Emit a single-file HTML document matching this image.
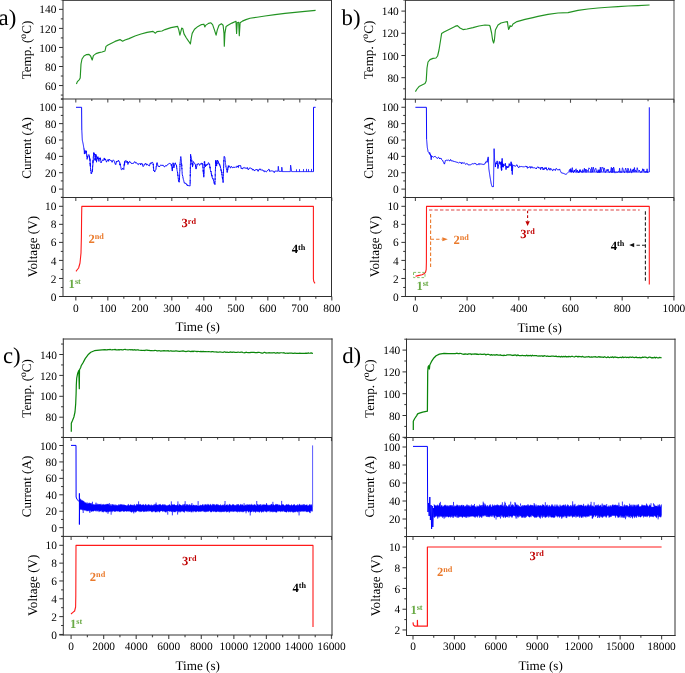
<!DOCTYPE html>
<html><head><meta charset="utf-8"><style>
html,body{margin:0;padding:0;background:#fff;width:685px;height:673px;overflow:hidden}
svg{display:block;font-family:"Liberation Serif",serif;text-rendering:geometricPrecision;will-change:transform}
</style></head><body>
<svg width="685" height="673" viewBox="0 0 685 673" font-family="Liberation Serif, serif">
<rect width="685" height="673" fill="#fff"/>
<polyline points="76.4,84 77.4,81.6 79.4,79.6 80.2,78 81,64 82,59 84,56 86.6,54.6 89,54.4 90.6,56 92.2,60 93.4,55.6 96,53.6 99,52.6 102,52 105,51 106,46.4 108,45 111,43.4 115,41.4 120,39.6 122.6,41.2 125,40 129,38.6 135,36 141,34 147,32.4 153,31.4 155.4,33.2 157,31.6 162,31 165,29.6 171,27.6 177.6,26.4 178.8,29.9 179.9,35.1 180.7,32.2 181.7,28.1 182.8,28.7 184,33.9 186.4,38 188.7,41.3 190.4,43.9 191.3,38 192.2,33.4 194.5,29.3 198,26.4 201.5,24.6 203.9,24.2 204.8,26.9 205.6,25.4 208.5,23.4 210.9,22.8 212.6,24.6 214.4,29.9 216.1,35.1 217.3,29.9 219,25.2 221.4,23.8 223.1,25.2 224,33.4 224.3,46.2 224.9,33.4 226.1,26.4 228.4,25 231.9,23.1 236,21.3 236.6,33.4 237.2,22.8 238.7,22.3 239.3,35.7 240.1,22.8 242.4,21.1 245.9,19.6 250,18.2 257,17.2 265,16 275,14.6 285,13.4 295,12.4 305,11.4 315.6,10.4" fill="none" stroke="#229322" stroke-width="1.15" stroke-linejoin="round"/>
<polyline points="76,107.3 81.6,107.3 81.8,130 81.83,130.62 81.86,131.25 81.89,131.88 81.92,132.5 81.96,133.12 81.99,133.75 82.02,134.38 82.05,135 82.08,135.62 82.11,136.25 82.14,136.88 82.17,137.5 82.21,138.12 82.24,138.75 82.27,139.38 82.3,140 82.42,140.59 82.55,141.18 82.67,141.76 82.8,142.35 82.92,142.94 83.05,143.52 83.17,144.11 83.3,144.7 83.4,145.35 83.5,146 83.6,146.65 83.7,147.3 83.8,147.95 83.9,148.6 84,149.25 84.1,148.84 84.15,149.55 84.2,150.58 84.25,151.05 84.3,152.35 84.35,153.61 84.4,154.05 84.53,153.98 84.65,151.6 84.78,150.58 84.9,151.22 85.12,150.64 85.35,151.97 85.58,151.66 85.8,153.58 86.1,153.13 86.4,150.82 86.48,152.77 86.56,153.6 86.64,154.37 86.72,154.09 86.8,156.31 86.88,155.84 86.96,156.95 87.04,157.66 87.12,159.33 87.2,158.67 87.32,158.31 87.43,157.44 87.55,157.97 87.67,156.18 87.78,156.86 87.9,155.62 89.1,154.6 89.23,156.07 89.37,157.57 89.5,156.43 89.63,158.9 89.77,158.25 89.9,160.38 89.94,159.24 89.98,159.11 90.02,159.9 90.06,160.97 90.1,160.71 90.14,164.06 90.18,163.05 90.22,163.77 90.26,165.34 90.3,166.21 90.34,163.85 90.38,165.14 90.42,165.52 90.46,167.67 90.5,167.72 90.6,169.46 90.7,170.59 90.8,169.72 90.9,170.93 91,171.16 91.1,173.35 91.2,172.71 91.3,173.05 91.4,173.81 91.62,173.57 91.85,172.57 92.08,171.83 92.3,171.51 92.35,170.79 92.39,171.58 92.44,169.83 92.49,168.83 92.54,169.83 92.58,168.81 92.63,165.7 92.68,166.36 92.72,165.84 92.77,165.47 92.82,165.44 92.86,164.94 92.91,162.32 92.96,163.05 93.01,160.64 93.05,161.78 93.1,160.79 93.15,160.27 93.2,160.06 93.25,160.56 93.3,157.69 93.35,156.63 93.4,157.37 93.45,156.71 93.5,156.31 93.55,154.73 93.6,154.93 93.65,153.06 93.7,153.75 93.75,153.79 93.8,152.47 94.6,154.32 94.65,155.02 94.7,154.27 94.75,154.91 94.8,155.09 94.85,154.41 94.9,156.67 94.95,157.01 95,156.64 95.05,159.97 95.1,158.22 95.15,158.59 95.2,160.57 95.26,159.72 95.32,159.12 95.38,158.61 95.44,157.86 95.5,157.49 95.56,156.8 95.62,155.76 95.68,155.57 95.74,154.4 95.8,154.98 95.87,154.59 95.93,156.73 96,155.68 96.07,156.64 96.13,155.51 96.2,156.74 96.27,158.75 96.33,158.85 96.4,160.7 96.47,161.08 96.53,162.19 96.6,160.55 96.73,160.8 96.86,160.01 96.99,159.41 97.11,158.64 97.24,157.31 97.37,159.1 97.5,157.19 97.7,158.86 97.9,156.59 98.1,157.72 98.3,157.75 98.5,159.1 98.7,160.37 98.94,161.43 99.18,158.55 99.42,158.94 99.66,157.93 99.9,158.8 100.06,157.89 100.21,157.74 100.37,159.58 100.53,158.43 100.69,160.23 100.84,161.3 101,162.93 101.6,161.55 102.2,160.88 102.8,159.69 103.4,160.53 103.83,159.86 104.25,157.93 104.67,160.07 105.1,160.06 105.46,158.86 105.82,160.2 106.18,161.11 106.54,162.16 106.9,160.83 107.48,160.6 108.05,159.45 108.62,161.35 109.2,159.16 109.78,159.94 110.35,160.38 110.92,159.99 111.5,161.23 112.1,162.29 112.7,160.7 113.3,159.85 113.9,160.65 114.11,161.14 114.33,161.34 114.54,162.17 114.75,162.95 114.96,163.39 115.17,164.04 115.39,164.34 115.6,163.79 115.8,164.44 116,163.64 116.2,162.19 116.4,161.34 116.6,162.21 116.8,161.32 117.37,161.04 117.93,161.69 118.5,160.22 118.8,160.97 119.1,161.32 119.4,162.06 119.7,162.07 119.85,164.71 120,164.05 120.15,165.26 120.3,163.76 120.45,165.58 120.6,166.28 120.75,166.64 120.9,167.27 121.05,168.33 121.2,169.36 121.35,169.54 121.5,169.73 122.08,169.63 122.65,168.1 123.22,168.74 123.8,169.57 123.91,167.19 124.02,166.72 124.13,164.45 124.24,165.39 124.35,164.76 124.45,162.66 124.56,165.07 124.67,161.52 124.78,162.14 124.89,162.69 125,160.79 125.57,160.93 126.13,160.49 126.7,161.41 126.87,161.83 127.04,162.7 127.21,161.01 127.39,162.95 127.56,163.35 127.73,163.69 127.9,164.48 128.14,163.99 128.38,162.11 128.62,162.6 128.86,162.92 129.1,161.84 129.68,161.31 130.25,162.45 130.82,162.39 131.4,163.56 132.1,163.26 132.8,164 133.5,162.91 134.2,162.16 134.9,161.59 135.48,163.04 136.07,162.57 136.65,162.75 137.23,163.86 137.82,164.23 138.4,164.67 138.98,163.51 139.57,164.1 140.15,163.35 140.73,165.04 141.32,163.37 141.9,163.61 142.1,163.97 142.3,163.89 142.5,163.9 142.7,165.81 142.9,166.3 143.1,166.67 143.48,166.27 143.87,165.97 144.25,164.4 144.63,164.87 145.02,164.2 145.4,163.09 145.97,163.69 146.55,165.22 147.12,163.92 147.7,164.58 148.3,165.49 148.9,165.36 149.5,165.89 150.1,163.44 150.58,164.05 151.07,162.6 151.55,163.35 152.03,162.22 152.52,162.45 153,162.79 153.06,162.88 153.11,163.45 153.17,163.86 153.23,164.93 153.29,164.06 153.34,164.9 153.4,167.82 153.46,167.34 153.51,168.07 153.57,167.46 153.63,169.1 153.69,170.91 153.74,170.34 153.8,170.28 154.25,170.6 154.7,172.04 154.94,171.42 155.18,170.73 155.42,170.21 155.66,169.75 155.9,169.72 156.02,169.09 156.14,166.78 156.26,166.18 156.38,166.56 156.5,165.29 156.62,165.27 156.74,163.64 156.86,164.23 156.98,163.22 157.1,162.6 157.28,163.37 157.47,164.11 157.65,164.71 157.83,165.78 158.02,165.84 158.2,166.44 158.8,166.01 159.4,167.03 160,165.71 160.7,165.12 161.4,165.05 162.1,165.89 162.8,164.89 163.5,165.63 164.08,166.74 164.67,166.9 165.25,165.82 165.83,165.58 166.42,166.04 167,165.04 167.59,164.78 168.17,164.07 168.76,163.82 169.34,163.51 169.93,163.22 170.51,163.87 171.1,164.06 171.21,164.7 171.32,165.77 171.43,164.43 171.54,165.4 171.65,166.27 171.75,167.51 171.86,168.81 171.97,169.16 172.08,169.43 172.19,169.97 172.3,171.05 172.37,169.24 172.43,169.13 172.5,169.53 172.57,166.84 172.63,168.06 172.7,167.43 172.77,166.8 172.83,166.35 172.9,165.36 172.97,163.23 173.03,163.39 173.1,162.78 173.23,162.92 173.36,164.69 173.49,164.71 173.61,165.25 173.74,164.85 173.87,167.85 174,167.55 174.15,165.45 174.3,165.84 174.45,165.34 174.6,164.79 174.75,163.9 174.9,163.26 175.28,162.81 175.65,164.02 176.03,164.95 176.4,165 176.52,166.54 176.64,165.95 176.77,168.61 176.89,168.34 177.01,169.67 177.13,170.59 177.26,170.85 177.38,171.73 177.5,172.67 177.57,172.08 177.64,173.6 177.71,174.29 177.79,173.78 177.86,175.76 177.93,175.05 178,175.84 178.07,176.35 178.14,177.41 178.21,177.94 178.29,179.14 178.36,179.19 178.43,179.78 178.5,181.29 178.9,182.12 179.3,182.11 179.33,181.11 179.35,181.29 179.38,180.22 179.41,178.08 179.43,179.7 179.46,178.47 179.49,177.34 179.51,177.62 179.54,176.26 179.57,176.56 179.59,176.16 179.62,174.19 179.65,173.63 179.67,172.32 179.7,172.36 179.73,172.03 179.75,171.44 179.78,170.76 179.81,171.03 179.83,170.65 179.86,167.84 179.89,167.72 179.91,166.7 179.94,166.98 179.97,165.75 179.99,165.8 180.02,164.14 180.05,164.39 180.07,164.82 180.1,162.86 180.16,162.96 180.23,162.17 180.29,161.5 180.35,160.69 180.42,159.29 180.48,158.95 180.55,158.75 180.61,158.39 180.67,158.33 180.74,157.04 180.8,156.56 180.87,157.59 180.95,157.92 181.02,158.3 181.09,158.88 181.16,160.15 181.24,160.06 181.31,160.74 181.38,161.3 181.45,162.34 181.53,162.65 181.6,164.45 181.64,164.25 181.67,164.07 181.71,165.09 181.74,166.04 181.78,165.39 181.81,167.87 181.85,168.6 181.88,168.09 181.92,168 181.95,168.76 181.99,170.23 182.02,170.29 182.06,170.65 182.09,171.52 182.13,171.61 182.16,173.07 182.2,173.83 182.33,174.7 182.47,174.97 182.6,176.04 182.73,176.28 182.87,176.6 183,177.97 183.13,178.2 183.27,179.12 183.4,179.52 183.68,180.36 183.97,181.71 184.25,182.69 184.53,183.26 184.82,182.67 185.1,183.09 185.56,183.8 186.02,183.34 186.48,184.6 186.94,184.08 187.4,186 188.07,185.15 188.75,185.8 189.43,185.79 190.1,186.02 190.11,185.37 190.12,184.78 190.13,183.38 190.14,182.78 190.15,183.1 190.16,183.25 190.17,183.07 190.18,181.21 190.19,180.58 190.2,181.26 190.21,179.37 190.22,178.7 190.23,178.24 190.24,177.74 190.25,176.94 190.26,175.21 190.27,175.83 190.28,176.05 190.29,174.63 190.3,175 190.31,173.38 190.32,171.69 190.33,172.28 190.34,171.48 190.35,170.25 190.35,170.59 190.36,169.08 190.37,168 190.38,168.5 190.39,167.2 190.4,167.3 190.41,167.77 190.42,166.17 190.43,165.32 190.44,164.85 190.45,164.49 190.46,164.86 190.47,163.15 190.48,162.54 190.49,161.73 190.5,160.4 190.51,159.44 190.52,161.12 190.53,159.32 190.54,159.35 190.55,158.24 190.56,157.81 190.57,156.93 190.58,157.64 190.59,156.74 190.6,154.28 190.75,156.72 190.9,156.37 191.05,157.11 191.2,157.49 191.35,157.97 191.5,158.65 191.58,159.14 191.65,159.89 191.73,161.4 191.81,160.39 191.88,162.82 191.96,163.58 192.04,163.13 192.12,164.62 192.19,163.23 192.27,164.99 192.35,165.5 192.42,166.2 192.5,167.06 192.6,166.22 192.7,164.45 192.8,165.05 192.9,165.3 193,163.68 193.1,163.08 193.2,162.19 193.3,161.51 193.73,162.11 194.15,163.12 194.57,163.5 195,163.6 195.15,163.87 195.3,164.77 195.45,164.68 195.6,166.7 195.75,165.47 195.9,168.08 196.05,169.08 196.2,167.57 196.35,168.16 196.5,167.27 196.65,166.85 196.8,166.22 196.95,165.69 197.1,163.91 197.25,164.52 197.4,164.1 198.12,163.92 198.85,163.57 199.58,165.38 200.3,164.44 200.8,163.43 201.3,163.13 201.8,164.37 202.3,163.69 202.39,163.22 202.48,164.16 202.56,165.52 202.65,165.43 202.74,165.94 202.82,167.64 202.91,167.25 203,167.95 203.05,168.51 203.11,169.49 203.16,170.03 203.21,171.58 203.27,170.01 203.32,172.7 203.37,172.97 203.43,174 203.48,173.78 203.53,174.32 203.59,174.96 203.64,175.57 203.69,176 203.75,176.75 203.8,177.2 203.82,175.96 203.84,175.39 203.87,175.72 203.89,174.85 203.91,174.89 203.93,172.86 203.96,173.31 203.98,172.5 204,171.89 204.02,172.3 204.04,170.8 204.07,171.05 204.09,170.17 204.11,168.05 204.13,167 204.16,167.54 204.18,167.59 204.2,166.34 204.22,165.7 204.24,164.17 204.27,165.51 204.29,163.91 204.31,163.54 204.33,161.62 204.36,162.27 204.38,162.69 204.4,161.99 204.53,162.55 204.66,161.55 204.79,163.08 204.91,164.81 205.04,164.24 205.17,164.95 205.3,166.9 205.77,165.06 206.23,165.87 206.7,164.37 207.3,165.11 207.9,163.92 208.5,162.64 208.87,163 209.23,164.73 209.6,163.95 209.73,165.76 209.86,167.13 209.99,168.12 210.11,166.87 210.24,169.12 210.37,169.84 210.5,170.37 210.63,171.25 210.76,171.97 210.89,171.37 211.01,171.86 211.14,171.5 211.27,174.09 211.4,173.72 211.57,175.28 211.74,176.19 211.91,174.86 212.08,175.98 212.25,177.77 212.42,178.22 212.59,178.09 212.76,178.77 212.93,178.35 213.1,179.64 213.36,179.38 213.61,180.94 213.87,181.79 214.13,183.45 214.39,182.64 214.64,182.46 214.9,184.18 214.92,184.68 214.94,181.61 214.97,181.05 214.99,181.48 215.01,180.86 215.03,180.38 215.06,180.02 215.08,179.29 215.1,179.8 215.12,178.19 215.15,178.61 215.17,177.7 215.19,177.19 215.22,174.55 215.24,175.3 215.26,174.71 215.28,173.73 215.31,173.09 215.33,172.64 215.35,172.24 215.37,171.71 215.4,169.9 215.42,170.22 215.44,169.69 215.46,168.92 215.49,167.86 215.51,168.09 215.53,166.59 215.55,166.18 215.58,166 215.6,165.38 215.62,166.12 215.64,163.3 215.67,163.91 215.69,163.27 215.71,161.22 215.73,163.2 215.76,161.1 215.78,160.15 215.8,160 215.89,160.51 215.98,161.33 216.07,160.94 216.16,162.62 216.24,162.15 216.33,163.42 216.42,163.62 216.51,164.18 216.6,166.12 216.69,165.22 216.78,163.79 216.87,163.09 216.96,163.69 217.05,162.91 217.14,163.45 217.23,161.66 217.32,161.65 217.41,160.29 217.5,160.04 217.8,161.36 218.1,160.93 218.4,161.83 218.64,163.25 218.88,162.94 219.12,164.3 219.36,163.82 219.6,165.36 219.77,164.57 219.94,165.54 220.11,165.52 220.28,167.09 220.45,166.74 220.62,168.11 220.79,168.5 220.96,170.42 221.13,169.58 221.3,171.37 221.4,170.82 221.5,170.7 221.6,171.63 221.7,172.99 221.8,172.23 221.9,175.08 222,174.48 222.1,175.11 222.2,176.64 222.3,177.74 222.4,177.43 222.5,178.98 222.6,177.15 222.7,178.91 222.8,178.86 222.9,180.05 223,180.2 223.1,182.62 223.12,180.97 223.14,180.49 223.17,179.47 223.19,178.98 223.21,178.39 223.23,178.11 223.25,177.18 223.28,176.67 223.3,175.99 223.32,174.9 223.34,175.13 223.36,174.18 223.39,173.72 223.41,172.19 223.43,172.71 223.45,171.79 223.47,171.42 223.5,171.69 223.52,170.18 223.54,170.37 223.56,168.96 223.58,168.21 223.6,167.05 223.63,167.33 223.65,167.13 223.67,165.81 223.69,166.03 223.71,164.6 223.74,163.93 223.76,164.35 223.78,164.07 223.8,161.38 223.82,161.79 223.85,161.06 223.87,160.32 223.89,161.06 223.91,159.42 223.93,158.83 223.96,158.24 223.98,157.71 224,156.4 224.8,156.94 224.88,157.76 224.95,158.11 225.03,158.96 225.1,159.34 225.18,160 225.25,160.55 225.33,162.29 225.4,162.7 225.47,163.67 225.55,164.12 225.62,164.53 225.7,164.57 225.78,164.88 225.85,165.13 225.93,167.01 226,166.81 226.17,167.53 226.34,168.33 226.51,169.66 226.69,169.45 226.86,170.27 227.03,170.64 227.2,172.52 227.32,170.68 227.44,171.1 227.57,170.62 227.69,168.72 227.81,169.56 227.93,167.64 228.06,168.04 228.18,166.59 228.3,165.66 228.73,167.28 229.15,165.72 229.57,166.19 230,167.47 230.6,168.01 231.2,166.37 231.8,166.73 232.4,167.65 233,167.93 233.6,167.04 234.18,167.2 234.77,167.64 235.35,166.81 235.93,167.43 236.52,167.24 237.1,165.85 238,167.32 238.36,167.56 238.72,165.15 239.08,165.54 239.44,165.7 239.8,165.57 240.08,165.15 240.37,165.64 240.65,165.6 240.93,167.09 241.22,168.78 241.5,168.32 242.27,168.94 243.03,167.66 243.8,168.02 244.38,167.49 244.97,168.55 245.55,168 246.13,168.11 246.72,168.44 247.3,167.43 248,169.64 248.7,169.43 249.4,167.98 250.1,168.01 250.8,167.98 251.4,168.74 252,168.52 252.6,170.18 253.2,169.41 253.81,169.65 254.42,171.04 255.04,170.05 255.65,169.74 256.26,169.84 256.88,169.08 257.49,170.02 258.1,171.37 258.71,169.69 259.32,169.81 259.94,168.71 260.55,169.95 261.16,169.45 261.77,170.41 262.39,170.06 263,170.03 263.62,171.29 264.25,171.84 264.88,170.67 265.5,171.31 266.12,172.1 266.75,171.47 267.38,170.51 268,170.44 268.62,169.3 269.25,169.45 269.88,171.59 270.5,170.86 271.12,171.16 271.75,170.74 272.38,170.97 273,171.11 273.62,171.31 274.25,172.64 274.88,171.13 275.5,171.1 276.12,171.12 276.75,171.15 277.38,171.17 278,171.2 278.04,170.6 278.07,170 278.11,169.4 278.15,168.8 278.19,168.2 278.23,167.6 278.26,167 278.3,166.4 278.38,167.03 278.45,167.65 278.52,168.28 278.6,168.9 278.68,169.53 278.75,170.15 278.82,170.78 278.9,171.4 279.57,171.4 280.25,171.4 280.93,171.4 281.6,171.4 281.63,170.72 281.67,170.03 281.7,169.35 281.73,168.67 281.77,167.98 281.8,167.3 281.89,167.91 281.97,168.53 282.06,169.14 282.14,169.76 282.23,170.37 282.31,170.99 282.4,171.6 283.01,171.6 283.62,171.6 284.22,171.6 284.83,171.6 285.44,171.6 286.05,171.6 286.65,171.6 287.26,171.6 287.87,171.6 288.48,171.6 289.08,171.6 289.69,171.6 290.3,171.6 290.33,170.96 290.36,170.32 290.39,169.68 290.42,169.04 290.45,168.4 290.48,167.76 290.51,167.12 290.54,166.48 290.57,165.84 290.6,165.2 290.71,165.84 290.82,166.48 290.93,167.12 291.04,167.76 291.15,168.4 291.26,169.04 291.37,169.68 291.48,170.32 291.59,170.96 291.7,171.6 292.31,171.6 292.91,171.6 293.52,171.6 294.12,171.6 294.73,171.6 295.33,171.6 295.94,171.6 296.54,171.6 297.15,171.6 297.76,171.6 298.36,171.6 298.97,171.6 299.57,171.6 300.18,171.6 300.78,171.6 301.39,171.6 301.99,171.6 302.6,171.6 303.21,171.6 303.81,171.6 304.42,171.6 305.02,171.6 305.63,171.6 306.23,171.6 306.84,171.6 307.44,171.6 308.05,171.6 308.66,171.6 309.26,171.6 309.87,171.6 310.47,171.6 311.08,171.6 311.68,171.6 312.29,171.6 312.89,171.6 313.5,171.6 313.5,107.3 315.6,107.3" fill="none" stroke="#0000ff" stroke-width="0.95" stroke-linejoin="round"/>
<line x1="296.5" y1="171.6" x2="296.5" y2="169.29" stroke="#0000ff" stroke-width="0.8"/>
<line x1="299.5" y1="171.6" x2="299.5" y2="169.14" stroke="#0000ff" stroke-width="0.8"/>
<line x1="303.5" y1="171.6" x2="303.5" y2="169.07" stroke="#0000ff" stroke-width="0.8"/>
<line x1="306.5" y1="171.6" x2="306.5" y2="168.87" stroke="#0000ff" stroke-width="0.8"/>
<line x1="308.5" y1="171.6" x2="308.5" y2="169.14" stroke="#0000ff" stroke-width="0.8"/>
<line x1="311.5" y1="171.6" x2="311.5" y2="168.9" stroke="#0000ff" stroke-width="0.8"/>
<polyline points="76,271.4 77,270 78.6,268 80,263 81,253 81.4,237 81.6,217 81.8,206.4 313.4,206.4 313.4,279 313.8,281.5 315,283.4" fill="none" stroke="#ff1a1a" stroke-width="1.1" stroke-linejoin="round"/>
<polyline points="415.4,91.6 417,89 419,86.6 422,85 425,83.6 426.2,81 427,68 428,62 430,59.6 433,58.4 436,58 437.6,56 439,50 440.6,40 441.6,33.6 444,32 447,30.4 451,28.4 455,26.4 457.4,25.6 460,28 463,29.6 467,29 473,27.6 479,26 485,25 489,25.2 490,26 491.6,33 492.6,40 493.6,43 494.4,40 495.4,30 498,25 501,23 505,22 507.4,21.6 508,26 508.6,29.4 509.4,28 510,25.6 511,26.6 512,26 513,24 517,21.6 525,19.4 533,17.6 538,16.4 548,14.4 558,13 568,12.6 578,10.4 588,9 598,8 608,7.2 618,6.6 628,6 638,5.6 649.6,5" fill="none" stroke="#229322" stroke-width="1.15" stroke-linejoin="round"/>
<polyline points="415.4,107.3 426.4,107.3 426.6,139.3 426.65,139.93 426.71,140.56 426.76,141.19 426.82,141.82 426.87,142.45 426.92,143.08 426.98,143.72 427.03,144.35 427.08,144.98 427.14,145.61 427.19,146.24 427.25,146.87 427.3,147.5 427.43,148.18 427.57,148.87 427.7,149.55 427.83,150.23 427.97,150.92 428.1,151.6 428.7,152.2 429.3,153.58 429.67,152.51 430.03,154.77 430.4,153.83 430.5,154.58 430.6,156.26 430.7,156.36 430.8,157.02 430.9,157.35 431,157.64 431.1,158.49 431.2,159.7 431.26,159.2 431.31,158.59 431.37,158.37 431.43,157.03 431.49,155.76 431.54,155.62 431.6,155.72 432.17,156.11 432.73,156.8 433.3,157.12 433.9,157.06 434.5,156.53 435.1,156.2 435.7,156.97 436.4,157.78 437.1,158.16 437.8,158.35 438.5,157.19 439.2,157.75 439.77,159.02 440.35,158.43 440.93,158.05 441.5,159.28 441.97,160.11 442.43,160.5 442.9,160.55 443.15,161.68 443.4,161.95 443.65,162.49 443.9,162.5 444.15,163.71 444.4,164.12 444.55,163.31 444.7,163.45 444.85,162.72 445,162.23 445.15,161.49 445.3,160.56 445.45,160.4 445.6,160.64 446.33,160.3 447.05,159.93 447.77,160.54 448.5,159.89 449.2,160.74 449.9,160.93 450.6,159.48 451.3,160.81 452,161.21 452.58,160.74 453.17,161.63 453.75,161.05 454.33,161.46 454.92,161.73 455.5,161.81 456.08,161.83 456.67,162.25 457.25,162.32 457.83,162.48 458.42,163.07 459,162.83 459.66,162.31 460.31,162.88 460.97,162.2 461.62,163.87 462.28,162.62 462.93,163.09 463.59,163.14 464.24,162.55 464.9,163.65 465.54,164.26 466.19,163.63 466.83,163.86 467.48,163.76 468.12,164.85 468.77,164.91 469.41,164.85 470.06,165.03 470.7,164.66 471.47,164.25 472.23,163.93 473,163.37 473.67,163.95 474.34,163.33 475.01,164.06 475.69,163.33 476.36,164.67 477.03,164.95 477.7,164.53 478.37,164.59 479.04,163.29 479.71,164.59 480.39,163.94 481.06,164.22 481.73,164.03 482.4,164.27 483.17,164.36 483.93,164.5 484.7,163.98 485,163.86 485.3,162.72 485.6,162.38 485.9,162.9 486.2,161.23 486.5,160.97 487.05,161.62 487.6,162.09 487.68,161.41 487.75,159.95 487.82,160.24 487.9,158.76 487.98,159.56 488.05,158.2 488.12,157.55 488.2,156.9 488.23,157.51 488.26,158.12 488.29,158.73 488.33,159.34 488.36,159.95 488.39,160.56 488.42,161.17 488.45,161.78 488.48,162.39 488.52,163.01 488.55,163.62 488.58,164.23 488.61,164.84 488.64,165.45 488.67,166.06 488.71,166.67 488.74,167.28 488.77,167.89 488.8,168.5 488.89,169.13 488.98,169.76 489.08,170.39 489.17,171.02 489.26,171.65 489.35,172.28 489.45,172.92 489.54,173.55 489.63,174.18 489.72,174.81 489.82,175.44 489.91,176.07 490,176.7 490.11,177.34 490.22,177.97 490.33,178.61 490.44,179.25 490.55,179.88 490.65,180.52 490.76,181.15 490.87,181.79 490.98,182.43 491.09,183.06 491.2,183.7 491.36,184.28 491.52,184.86 491.68,185.44 491.84,186.02 492,186.6 492.75,186.6 493.5,186.6 493.51,186 493.52,185.4 493.52,184.8 493.53,184.2 493.54,183.6 493.55,183 493.56,182.4 493.57,181.8 493.57,181.2 493.58,180.6 493.59,180 493.6,179.4 493.61,178.8 493.62,178.2 493.62,177.6 493.63,177 493.64,176.4 493.65,175.8 493.66,175.2 493.67,174.6 493.68,174 493.68,173.4 493.69,172.8 493.7,172.2 493.71,171.6 493.72,171 493.73,170.4 493.73,169.8 493.74,169.2 493.75,168.6 493.76,168 493.77,167.4 493.78,166.8 493.78,166.2 493.79,165.6 493.8,165 493.81,164.4 493.82,163.79 493.83,163.19 493.84,162.59 493.86,161.98 493.87,161.38 493.88,160.77 493.89,160.17 493.9,159.57 493.91,158.96 493.92,158.36 493.93,157.76 493.94,157.15 493.96,156.55 493.97,155.94 493.98,155.34 493.99,154.74 494,154.13 494.01,153.53 494.02,152.93 494.03,152.32 494.04,151.72 494.06,151.11 494.07,150.51 494.08,149.91 494.09,149.3 494.1,148.7 494.13,149.31 494.16,149.92 494.19,150.53 494.21,151.14 494.24,151.75 494.27,152.36 494.3,152.97 494.33,153.58 494.36,154.19 494.39,154.8 494.41,155.4 494.44,156.01 494.47,156.62 494.5,157.23 494.53,157.84 494.56,158.45 494.59,159.06 494.61,159.67 494.64,160.28 494.67,160.89 494.7,161.5 495.04,161.78 495.38,167.05 495.72,163.17 496.06,163.13 496.4,164.1 497.17,160.86 497.93,168.6 498.7,164.44 499.3,161.45 499.9,164.17 500.5,162.43 501.1,164.81 501.15,163.19 501.21,162.15 501.26,168.34 501.32,161.53 501.37,165.26 501.43,170.08 501.48,166.91 501.54,168.5 501.59,170.54 501.65,169.07 501.7,169.79 501.74,168.67 501.78,168.02 501.82,167.84 501.85,163.13 501.89,166.36 501.93,162.43 501.97,163.34 502.01,167 502.05,163.99 502.08,160.22 502.12,158.49 502.16,158.39 502.2,165.43 502.46,164.74 502.71,166.87 502.97,163.72 503.23,167.25 503.49,164.24 503.74,164.96 504,165.62 504.67,165.32 505.33,163.29 506,169.62 506.67,165.94 507.33,168.02 508,166.22 508.62,167.47 509.23,163.61 509.85,166.13 510.47,165.59 511.08,161.76 511.7,164.71 511.74,165.84 511.78,166.39 511.82,163.77 511.86,168.66 511.9,170.99 511.94,169.49 511.98,166.06 512.02,170.3 512.06,170.9 512.1,171.5 512.14,172.1 512.18,172.7 512.22,173.3 512.26,173.9 512.3,174.5 512.33,173.88 512.37,173.26 512.4,172.64 512.43,172.02 512.47,171.4 512.5,170.78 512.53,170.16 512.57,169.54 512.6,168.92 512.63,168.3 512.67,167.68 512.7,167.06 512.73,166.44 512.77,165.82 512.8,165.2 513.4,165.4 514,165.66 514.6,165.63 515.2,166.51 515.8,165.87 516.4,165.08 517,164.74 517.6,166.67 518.2,166.94 518.8,167.79 519.4,166.23 520,166.26 520.62,166.67 521.25,166.62 521.88,166.42 522.5,166.72 523.12,167.04 523.75,166.69 524.38,167.02 525,166.32 525.62,166.38 526.25,166.92 526.88,165.99 527.5,168.32 528.12,167.24 528.75,167.51 529.38,167.32 530,166.37 530.62,168.23 531.25,167.79 531.88,166.53 532.5,167.82 533.12,168.03 533.75,167.67 534.38,167.7 535,168.08 535.62,168.18 536.25,168.96 536.88,167.75 537.5,166.95 538.12,166.85 538.75,168.06 539.38,168.18 540,167.41 540.62,169.59 541.25,167.27 541.88,168.15 542.5,167.08 543.12,170.03 543.75,168.4 544.38,169.4 545,167.49 545.62,168.83 546.25,167.53 546.88,170.14 547.5,169.85 548.12,169.63 548.75,167.8 549.38,169.01 550,170.26 550.6,168.42 551.2,169.1 551.8,169.1 552.4,170.61 553,170.62 553.6,169.26 554.2,169.58 554.8,169.7 555.4,170.49 556,168.49 556.6,168.64 557.2,169.54 557.8,169.91 558.4,169.77 559,169.86 559.6,168.94 560.1,170.4 560.4,171 560.7,171.6 561,172.2 561.3,172.8 562.07,173 562.83,173.2 563.6,173.4 564.2,173.68 564.8,173.95 565.4,174.22 566,174.5 566.6,173.95 567.2,173.4 567.62,172.95 568.05,172.5 568.48,172.05 568.9,171.6 569.52,169.61 570.14,169.98 570.76,171.84 571.38,172.09 572,170.33 572.6,171.88 573.21,172.16 573.81,171.81 574.42,169.99 575.02,172.33 575.62,171.92 576.23,171.56 576.83,171.76 577.44,170.14 578.04,172.36 578.64,172.3 579.25,172.1 579.85,169.81 580.45,172 581.06,172 581.66,172 582.27,172 582.87,172 583.47,172 584.08,172 584.68,172 585.29,172 585.89,172 586.49,172 587.1,172 587.7,172 588.31,172 588.91,172 589.51,172 590.12,172 590.72,172 591.33,172 591.93,172 592.53,172 593.14,172 593.74,172 594.34,172 594.95,172 595.55,172 596.16,172 596.76,172 597.36,172 597.97,172 598.57,172 599.18,172 599.78,172 600.38,172 600.99,172 601.59,172 602.2,172 602.8,172 603.4,172 604.01,172 604.61,172 605.21,172 605.82,172 606.42,172 607.03,172 607.63,172 608.23,172 608.84,172 609.44,172 610.05,172 610.65,172 611.25,172 611.86,172 612.46,172 613.07,172 613.67,172 614.27,172 614.88,172 615.48,172 616.09,172 616.69,172 617.29,172 617.9,172 618.5,172 619.1,172 619.71,172 620.31,172 620.92,172 621.52,172 622.12,172 622.73,172 623.33,172 623.94,172 624.54,172 625.14,172 625.75,172 626.35,172 626.96,172 627.56,172 628.16,172 628.77,172 629.37,172 629.97,172 630.58,172 631.18,172 631.79,172 632.39,172 632.99,172 633.6,172 634.2,172 634.81,172 635.41,172 636.01,172 636.62,172 637.22,172 637.83,172 638.43,172 639.03,172 639.64,172 640.24,172 640.85,172 641.45,172 642.05,172 642.66,172 643.26,172 643.86,172 644.47,172 645.07,172 645.68,172 646.28,172 646.88,172 647.49,172 648.09,172 648.7,172 649.3,172 649.3,107.3" fill="none" stroke="#0000ff" stroke-width="0.95" stroke-linejoin="round"/>
<polyline points="569,172.02 569.55,171.83 570.1,172.07 570.65,168.61 571.2,172.49 571.75,169.3 572.3,167.63 572.85,170.98 573.4,172.83 573.95,172.13 574.5,170.25 575.05,171.02 575.6,169.5 576.15,168.77 576.7,172.58 577.25,172.18 577.8,172.22 578.35,171.46 578.9,172.89 579.45,172.32 580,169.54 580.55,170.07 581.1,171.7 581.65,171.67 582.2,172.59 582.75,169.61 583.3,171.84 583.85,171.69 584.4,168.22 584.95,171.44 585.5,169.2 586.05,172.42 586.6,169.49 587.15,170.1 587.7,171.26 588.25,171.79 588.8,167.88 589.35,168.18 589.9,168.91 590.45,169.41 591,172.51 591.55,167.38 592.1,169 592.65,172.18 593.2,167.04 593.75,169.45 594.3,171.56 594.85,170.06 595.4,168.38 595.95,168.32 596.5,171.81 597.05,171.87 597.6,172.63 598.15,169.79 598.7,172.54 599.25,169.67 599.8,172.78 600.35,167.16 600.9,172.11 601.45,171.11 602,167.12 602.55,167.97 603.1,167.58 603.65,171.49 604.2,167.92 604.75,169.55 605.3,172.6 605.85,171.46 606.4,171.31 606.95,169.41 607.5,171.02 608.05,169.08 608.6,171.16 609.15,172.68 609.7,172.21 610.25,172.07 610.8,170.18 611.35,167.3 611.9,172.83 612.45,168.2 613,172.36 613.55,167 614.1,168.5 614.65,172.7 615.2,172.31 615.75,172.73 616.3,172.27 616.85,172.64 617.4,172.48 617.95,172.05 618.5,171.66 619.05,172.12 619.6,168.19 620.15,172.66 620.7,171.68 621.25,172.06 621.8,172.58 622.35,167.82 622.9,168.32 623.45,171.36 624,171.89 624.55,172.74 625.1,170.26 625.65,168.06 626.2,169.74 626.75,172.22 627.3,172.68 627.85,168.1 628.4,168.88 628.95,172.73 629.5,171.67 630.05,171.53 630.6,168.66 631.15,172.6 631.7,172.8 632.25,169.74 632.8,171.45 633.35,168.93 633.9,171.89 634.45,167.53 635,171.8 635.55,170.2 636.1,170.98 636.65,172.04 637.2,167.69 637.75,169.85 638.3,170.95 638.85,171.37 639.4,170.15 639.95,171.79 640.5,172.21 641.05,172.82 641.6,171.3 642.15,171.26 642.7,168.74 643.25,171.26 643.8,169.16 644.35,171.94 644.9,172.41 645.45,172.48 646,171.07 646.55,172.34 647.1,168.8 647.65,172.72 648.2,172.04" fill="none" stroke="#0000ff" stroke-width="0.8" stroke-linejoin="round"/>
<polyline points="415.5,276.2 418,275.6 422,274.8 424,273.8 425.5,272.3 426.2,269.5 426.4,262 426.5,206.4 649.3,206.4 649.3,284.5" fill="none" stroke="#ff1a1a" stroke-width="1.1" stroke-linejoin="round"/>
<polyline points="71.3,431.8 71.3,423.3 72.5,420.5 73.9,417 75,412 75.7,403.6 76.1,393.7 76.3,385.2 76.7,378.1 77.7,373.2 78.8,370.4 79.3,388.7 79.5,369.7 80.7,367.5 81.2,365.7 83.1,362.6 85.2,358.6 88,354.8 90.8,352.3 94.4,350.7 99.3,350.2 105,349.6 106,349.81 107,349.91 108,349.57 109,349.71 110,349.39 111,349.76 112,349.82 113,349.7 114,349.75 115,349.4 116,349.88 117,349.94 118,349.93 119,349.63 120,349.8 121,349.47 122,349.89 123,349.85 124,349.52 125,349.37 126,349.65 127,349.76 128,349.94 129,349.77 130,349.48 131,350.06 132,349.56 133,350.11 134,349.7 135,349.84 136,350.19 137,349.77 138,349.8 139,350.09 140,350.27 141,350.38 142,350.3 143,350.51 144,350.22 145,350.57 146,350 147,350.12 148,350.37 149,350.23 150,350.57 151,350.54 152,350.49 153,350.74 154,350.57 155,350.43 156,350.51 157,350.86 158,350.93 159,350.48 160,350.96 161,351.07 162,350.79 163,350.85 164,350.61 165,350.87 166,350.86 167,350.95 168,350.57 169,351.25 170,350.95 171,350.89 172,351.19 173,351.04 174,351.01 175,351.17 176,350.76 177,351.11 178,351.04 179,351.44 180,351.44 181,351 182,351.16 183,350.94 184,351.18 185,351.47 186,351.55 187,351.28 188,351.19 189,351.13 190,351.45 191,351.69 192,351.15 193,351.63 194,351.12 195,351.27 196,351.31 197,351.66 198,351.43 199,351.48 200,351.68 201,351.34 202,351.8 203,351.4 204,351.69 205,351.53 206,351.51 207,351.76 208,351.72 209,351.69 210,351.74 211,351.84 212,351.6 213,351.65 214,351.97 215,352 216,351.94 217,352.19 218,352.04 219,352.23 220,351.81 221,352.19 222,352.26 223,352.34 224,351.95 225,351.97 226,352.42 227,351.94 228,352.51 229,352.45 230,351.94 231,352.03 232,352.39 233,352.08 234,351.98 235,352.52 236,352.25 237,352.52 238,352.07 239,352.28 240,352.5 241,352.05 242,352.19 243,352.54 244,352.72 245,352.78 246,352.2 247,352.49 248,352.68 249,352.52 250,352.66 251,352.33 252,352.27 253,352.31 254,352.28 255,352.65 256,352.64 257,352.7 258,352.42 259,352.46 260,352.49 261,352.95 262,353.07 263,353.04 264,352.47 265,352.46 266,353.1 267,352.77 268,352.99 269,352.7 270,352.81 271,352.86 272,352.81 273,352.94 274,352.55 275,353.04 276,353.15 277,352.7 278,352.91 279,353.12 280,352.9 281,352.77 282,352.76 283,353.02 284,352.68 285,353.31 286,353.26 287,353.2 288,353.33 289,353.18 290,353.03 291,353.18 292,353.12 293,353.46 294,353.35 295,352.97 296,353.44 297,353.33 298,353.36 299,353.4 300,353.12 301,353.47 302,353.47 303,353.35 304,353.41 305,353.42 306,353.17 307,353.4 308,352.96 309,353.15 310,353.25 311,352.94 312,353.19 313,353.4" fill="none" stroke="#0a850a" stroke-width="1.2" stroke-linejoin="round"/>
<polyline points="71,445.4 76,445.4 76.1,497 77,499.5 78.7,501 79.4,501.5 79.4,493.4 79.4,524.5 79.6,501 80.5,500" fill="none" stroke="#0000ff" stroke-width="1.0" stroke-linejoin="round"/>
<polygon points="80,499.22 80.5,498.82 81,500.4 81.5,500.19 82,499.9 82.5,500.77 83,500.91 83.5,501.14 84,501.18 84.5,502.58 85,502.23 85.5,502.63 86,503.04 86.5,503.73 87,502.3 87.5,503.62 88,503.9 88.5,503.09 89,503.41 89.5,502.83 90,503.15 90.5,503.53 91,503.09 91.5,503.42 92,504.66 92.5,504.07 93,504.06 93.5,504.94 94,504.28 94.5,505.1 95,504.52 95.5,504.89 96,503.62 96.5,504.62 97,504.97 97.5,503.69 98,505.29 98.5,503.92 99,504.49 99.5,503.95 100,504.55 100.5,504.77 101,503.79 101.5,505.39 102,504.46 102.5,504.66 103,504.8 103.5,504.39 104,504.25 104.5,504.93 105,504.77 105.5,504.28 106,505.07 106.5,504.32 107,503.83 107.5,504.25 108,503.9 108.5,504.11 109,505.2 109.5,504.55 110,505.48 110.5,505.22 111,503.97 111.5,505.67 112,505.6 112.5,504.04 113,505.55 113.5,504.7 114,504.8 114.5,505.7 115,504.4 115.5,504.91 116,505.67 116.5,505.29 117,504.84 117.5,505.77 118,505.49 118.5,505.12 119,504.25 119.5,505.17 120,504.88 120.5,504.44 121,504.17 121.5,505.04 122,504.32 122.5,504.9 123,505.3 123.5,504.92 124,504.57 124.5,505.15 125,504.86 125.5,505.5 126,505.06 126.5,505.9 127,505.81 127.5,505.42 128,504.53 128.5,504.3 129,505.71 129.5,505.51 130,505.22 130.5,504.75 131,504.59 131.5,505.33 132,505.12 132.5,505.17 133,505.24 133.5,505.46 134,504.44 134.5,504.55 135,505.86 135.5,505.75 136,505.68 136.5,504.17 137,504.21 137.5,504.59 138,504.87 138.5,505.22 139,504.28 139.5,505.07 140,504.23 140.5,504.26 141,505.32 141.5,505.09 142,505.24 142.5,504.77 143,504.96 143.5,504.48 144,504.72 144.5,505.44 145,505.61 145.5,504.23 146,504.32 146.5,505.56 147,505.22 147.5,505.48 148,504.48 148.5,504.86 149,504.56 149.5,505.56 150,504.76 150.5,505.28 151,505.88 151.5,504.69 152,505.09 152.5,505.44 153,505.76 153.5,504.87 154,504.76 154.5,504.27 155,505.68 155.5,504.24 156,504.25 156.5,505.12 157,504.97 157.5,505.33 158,504.64 158.5,505.5 159,504.24 159.5,504.48 160,505.29 160.5,504.25 161,504.65 161.5,505.4 162,505.35 162.5,504.61 163,504.36 163.5,504.74 164,505.41 164.5,504.76 165,504.31 165.5,505.38 166,505.12 166.5,505.75 167,505.79 167.5,505.74 168,504.89 168.5,505.55 169,504.65 169.5,504.67 170,504.82 170.5,505.78 171,505.71 171.5,504.55 172,504.75 172.5,504.76 173,504.75 173.5,504.81 174,504.8 174.5,504.45 175,505.11 175.5,505.53 176,505.07 176.5,505.61 177,505.11 177.5,504.42 178,505.47 178.5,505.69 179,504.61 179.5,504.14 180,505.03 180.5,505.08 181,505.12 181.5,505.84 182,505.27 182.5,505.55 183,504.22 183.5,505.08 184,505.52 184.5,504.25 185,504.25 185.5,505.43 186,505.72 186.5,504.25 187,505.24 187.5,504.36 188,505.44 188.5,505.27 189,504.54 189.5,504.5 190,505.48 190.5,505.04 191,505.48 191.5,504.81 192,504.71 192.5,505.84 193,505.31 193.5,504.99 194,505.07 194.5,505.4 195,505.37 195.5,505.75 196,504.84 196.5,505.59 197,505.3 197.5,505.64 198,505.55 198.5,505.6 199,505.7 199.5,505.82 200,505.25 200.5,505.04 201,505.38 201.5,505.54 202,504.86 202.5,504.86 203,504.36 203.5,505.43 204,505.88 204.5,504.78 205,504.4 205.5,504.47 206,504.86 206.5,504.63 207,505.85 207.5,504.21 208,504.66 208.5,504.31 209,505.27 209.5,505.5 210,504.42 210.5,504.21 211,504.93 211.5,505.15 212,505.74 212.5,504.17 213,504.3 213.5,504.43 214,504.49 214.5,504.52 215,505.39 215.5,505.17 216,504.5 216.5,504.43 217,504.61 217.5,504.41 218,505.46 218.5,504.66 219,505.09 219.5,505.57 220,504.96 220.5,504.57 221,505.7 221.5,505.75 222,504.72 222.5,505.09 223,505.82 223.5,504.97 224,504.5 224.5,504.19 225,505.81 225.5,505.54 226,504.79 226.5,505.05 227,505.03 227.5,504.59 228,505.88 228.5,505.28 229,504.53 229.5,504.12 230,504.95 230.5,504.77 231,505.53 231.5,505.38 232,505.19 232.5,504.38 233,504.38 233.5,504.68 234,504.57 234.5,505.66 235,505.03 235.5,505.25 236,505.89 236.5,504.58 237,505.06 237.5,504.37 238,505.49 238.5,504.1 239,505.58 239.5,505.62 240,505.58 240.5,504.25 241,504.59 241.5,505.39 242,504.27 242.5,504.96 243,504.94 243.5,505.82 244,505.16 244.5,505.64 245,504.65 245.5,505.52 246,504.85 246.5,505.75 247,504.26 247.5,505.59 248,504.48 248.5,505.08 249,505.05 249.5,504.38 250,505.6 250.5,504.66 251,504.66 251.5,504.24 252,504.65 252.5,504.94 253,505.39 253.5,504.75 254,505.34 254.5,504.29 255,504.81 255.5,504.93 256,505.84 256.5,505.59 257,505.28 257.5,504.12 258,504.78 258.5,505.38 259,504.53 259.5,505.12 260,504.92 260.5,504.12 261,505.88 261.5,505.54 262,504.47 262.5,505.21 263,504.62 263.5,504.78 264,505.07 264.5,504.64 265,504.71 265.5,504.81 266,505.3 266.5,504.56 267,504.46 267.5,505.42 268,504.69 268.5,505.8 269,505.11 269.5,505.4 270,504.7 270.5,505.59 271,504.27 271.5,504.35 272,504.27 272.5,505.32 273,505.37 273.5,504.42 274,504.82 274.5,505.61 275,505.17 275.5,504.26 276,504.51 276.5,504.38 277,504.32 277.5,504.83 278,504.23 278.5,505.76 279,504.87 279.5,505.02 280,505.27 280.5,505.48 281,505.58 281.5,504.79 282,504.7 282.5,504.84 283,504.13 283.5,504.82 284,505.36 284.5,505.87 285,505.52 285.5,505.29 286,505.2 286.5,504.13 287,504.7 287.5,504.72 288,505.27 288.5,504.29 289,504.78 289.5,505.02 290,505.52 290.5,505.59 291,505.2 291.5,504.39 292,505.48 292.5,505.73 293,505.09 293.5,504.73 294,505 294.5,504.36 295,505.38 295.5,505.88 296,505.03 296.5,505.39 297,505.6 297.5,504.45 298,505.8 298.5,505.23 299,504.46 299.5,504.25 300,504.54 300.5,505.14 301,505.35 301.5,504.69 302,505.77 302.5,504.75 303,504.93 303.5,504.32 304,505.85 304.5,504.34 305,505.73 305.5,505.08 306,505.11 306.5,505.11 307,504.58 307.5,505.74 308,505.89 308.5,505.57 309,505.18 309.5,504.32 310,505.58 310.5,504.62 311,505.71 311.5,504.53 312,505.13 312.5,505.6 312.5,510.93 312,511.59 311.5,510.74 311,510.66 310.5,510.92 310,512.38 309.5,512.29 309,511.79 308.5,511.15 308,511.81 307.5,511.93 307,511.29 306.5,511.67 306,512.05 305.5,510.63 305,510.96 304.5,511.44 304,510.86 303.5,511.3 303,511.63 302.5,510.91 302,511.54 301.5,511.07 301,511.62 300.5,511.2 300,511.76 299.5,510.67 299,511.81 298.5,510.86 298,512.33 297.5,511.68 297,511.45 296.5,511.34 296,511.72 295.5,511.84 295,511.96 294.5,511.95 294,511.47 293.5,512.39 293,512.11 292.5,512.14 292,511.34 291.5,511.38 291,511.62 290.5,512.23 290,511.55 289.5,511.55 289,511.38 288.5,512.23 288,511.18 287.5,510.7 287,511.91 286.5,512.22 286,511.92 285.5,511.68 285,511.95 284.5,511.15 284,511.67 283.5,510.73 283,510.82 282.5,511.4 282,511.5 281.5,511.31 281,510.69 280.5,511.85 280,511.55 279.5,511.03 279,511.15 278.5,511.31 278,511.02 277.5,510.72 277,512.24 276.5,512.34 276,511.8 275.5,512.16 275,511.36 274.5,512.05 274,511 273.5,511.94 273,511.62 272.5,512.23 272,510.78 271.5,512.03 271,510.82 270.5,511.57 270,512.31 269.5,510.6 269,511.04 268.5,511.14 268,511.18 267.5,510.71 267,512.21 266.5,512.07 266,511.32 265.5,511.24 265,511.65 264.5,510.68 264,510.66 263.5,512.22 263,511.15 262.5,511.5 262,512.28 261.5,512.36 261,511.45 260.5,510.97 260,511.13 259.5,512.26 259,512.21 258.5,510.95 258,512.11 257.5,511.24 257,511.45 256.5,510.91 256,512.18 255.5,512.39 255,510.96 254.5,511.74 254,510.94 253.5,512.18 253,510.69 252.5,510.79 252,511.91 251.5,511.16 251,512.22 250.5,512.17 250,511.88 249.5,510.84 249,511.85 248.5,512.29 248,511.4 247.5,510.74 247,511 246.5,511.15 246,511.88 245.5,510.95 245,510.93 244.5,511.02 244,511.8 243.5,512.02 243,511.27 242.5,511.79 242,512.19 241.5,511.66 241,511.01 240.5,511.14 240,512.27 239.5,511.8 239,511.1 238.5,511.75 238,510.76 237.5,512.37 237,511.39 236.5,511.55 236,511.56 235.5,510.68 235,511.68 234.5,511.11 234,511.05 233.5,512.05 233,510.76 232.5,511.11 232,511.96 231.5,511.04 231,511.1 230.5,511.59 230,510.94 229.5,512.21 229,512.38 228.5,510.66 228,511.43 227.5,511.95 227,511.29 226.5,512.27 226,511.5 225.5,510.92 225,511.6 224.5,511.76 224,511.25 223.5,511.78 223,512.01 222.5,511.53 222,511.51 221.5,512.12 221,511.83 220.5,511.54 220,512.31 219.5,510.91 219,512 218.5,510.9 218,511.69 217.5,511.02 217,511.39 216.5,511.99 216,512.02 215.5,512.02 215,511.02 214.5,511.48 214,511 213.5,511.64 213,511.5 212.5,510.66 212,511.67 211.5,511.89 211,511.63 210.5,512.17 210,510.92 209.5,510.87 209,510.63 208.5,511.49 208,511.38 207.5,511.4 207,511.07 206.5,512.04 206,510.73 205.5,512.23 205,511.62 204.5,511.58 204,512.02 203.5,511.03 203,510.86 202.5,511.16 202,510.68 201.5,511.17 201,511.72 200.5,511.55 200,511.08 199.5,511.66 199,510.76 198.5,512.08 198,510.91 197.5,511.06 197,510.89 196.5,511.84 196,512.1 195.5,512.02 195,510.71 194.5,511.34 194,511.26 193.5,510.99 193,512.35 192.5,510.68 192,511.48 191.5,511.97 191,512.38 190.5,510.86 190,511.42 189.5,511.94 189,510.67 188.5,511.03 188,512.2 187.5,510.85 187,511.31 186.5,511.14 186,511.36 185.5,510.74 185,510.66 184.5,512.39 184,511.97 183.5,511.92 183,511.01 182.5,511.06 182,511.59 181.5,511.04 181,511.43 180.5,512.28 180,511.26 179.5,511.21 179,512.37 178.5,511.7 178,510.67 177.5,511.33 177,511.77 176.5,510.71 176,511.22 175.5,511.85 175,512.16 174.5,511.66 174,512.2 173.5,511.43 173,511.31 172.5,512.12 172,511.29 171.5,512.01 171,510.99 170.5,511.23 170,510.93 169.5,511.59 169,510.89 168.5,510.97 168,510.99 167.5,511.44 167,511.16 166.5,511.4 166,512.39 165.5,511.82 165,512.15 164.5,510.97 164,511.29 163.5,510.73 163,511.84 162.5,511.25 162,511.09 161.5,510.63 161,510.93 160.5,511.07 160,511.31 159.5,512.26 159,511.89 158.5,511.08 158,511.25 157.5,510.88 157,512.29 156.5,511.25 156,511.98 155.5,511.9 155,512.23 154.5,510.64 154,511.18 153.5,511.29 153,510.75 152.5,512.19 152,511.19 151.5,511.99 151,511.53 150.5,510.7 150,511.31 149.5,511.03 149,510.67 148.5,510.87 148,511.67 147.5,510.66 147,511.16 146.5,511.36 146,511.58 145.5,510.84 145,511.87 144.5,511.07 144,511.91 143.5,511.8 143,510.86 142.5,510.97 142,511.1 141.5,511.88 141,511.33 140.5,511.3 140,512.16 139.5,511.01 139,511.13 138.5,511.22 138,510.99 137.5,510.67 137,510.64 136.5,511.73 136,511.62 135.5,512.06 135,512.36 134.5,511.14 134,511.81 133.5,512.25 133,510.99 132.5,511.84 132,511.8 131.5,512.32 131,512.16 130.5,511.02 130,511.74 129.5,510.76 129,511.37 128.5,511.31 128,510.71 127.5,511.29 127,511.19 126.5,511.49 126,511.1 125.5,510.89 125,511.32 124.5,511.46 124,510.9 123.5,511.8 123,511.03 122.5,510.77 122,511.22 121.5,511.36 121,510.87 120.5,511.65 120,511.86 119.5,511.6 119,511.86 118.5,510.64 118,511.3 117.5,511.26 117,510.71 116.5,511.33 116,510.7 115.5,511.49 115,511.65 114.5,511.44 114,511.19 113.5,511.06 113,510.64 112.5,511.22 112,512.21 111.5,511.62 111,511.07 110.5,511.8 110,510.93 109.5,511.44 109,511.71 108.5,512.32 108,511.25 107.5,511.64 107,512.3 106.5,511.99 106,511.73 105.5,511.72 105,511.34 104.5,511.35 104,511.1 103.5,512.07 103,512.13 102.5,511.21 102,512.14 101.5,510.54 101,510.69 100.5,511.34 100,510.96 99.5,511.02 99,512.11 98.5,510.59 98,510.65 97.5,510.69 97,511.47 96.5,510.65 96,510.2 95.5,511.15 95,510.86 94.5,510.56 94,510.99 93.5,511.25 93,511.04 92.5,511.15 92,511.01 91.5,511.47 91,511.69 90.5,510.53 90,510.52 89.5,511.44 89,510.35 88.5,511.02 88,510.93 87.5,510.86 87,511.31 86.5,511 86,509.75 85.5,510.52 85,510.23 84.5,510.31 84,509.91 83.5,509.7 83,510.48 82.5,510.04 82,509.45 81.5,509.41 81,509.49 80.5,509.18 80,509.72" fill="#0000ff" stroke="#0000ff" stroke-width="0.4"/>
<line x1="109.33" y1="504.75" x2="109.33" y2="503.06" stroke="#0000ff" stroke-width="0.8"/>
<line x1="95.99" y1="504.38" x2="95.99" y2="502.58" stroke="#0000ff" stroke-width="0.8"/>
<line x1="244.07" y1="505" x2="244.07" y2="503.16" stroke="#0000ff" stroke-width="0.8"/>
<line x1="185.13" y1="505" x2="185.13" y2="501.18" stroke="#0000ff" stroke-width="0.8"/>
<line x1="191.91" y1="505" x2="191.91" y2="503.01" stroke="#0000ff" stroke-width="0.8"/>
<line x1="281.67" y1="505" x2="281.67" y2="500.89" stroke="#0000ff" stroke-width="0.8"/>
<line x1="92.44" y1="503.98" x2="92.44" y2="501.72" stroke="#0000ff" stroke-width="0.8"/>
<line x1="198.13" y1="505" x2="198.13" y2="501.11" stroke="#0000ff" stroke-width="0.8"/>
<line x1="171.32" y1="505" x2="171.32" y2="501.35" stroke="#0000ff" stroke-width="0.8"/>
<line x1="138.62" y1="505" x2="138.62" y2="501.35" stroke="#0000ff" stroke-width="0.8"/>
<line x1="156.09" y1="505" x2="156.09" y2="502.5" stroke="#0000ff" stroke-width="0.8"/>
<line x1="256.76" y1="505" x2="256.76" y2="500.97" stroke="#0000ff" stroke-width="0.8"/>
<line x1="272.88" y1="505" x2="272.88" y2="501.8" stroke="#0000ff" stroke-width="0.8"/>
<line x1="177.91" y1="505" x2="177.91" y2="501.38" stroke="#0000ff" stroke-width="0.8"/>
<line x1="225.03" y1="505" x2="225.03" y2="501.01" stroke="#0000ff" stroke-width="0.8"/>
<line x1="266.53" y1="505" x2="266.53" y2="503.12" stroke="#0000ff" stroke-width="0.8"/>
<line x1="167.75" y1="511.5" x2="167.75" y2="514.67" stroke="#0000ff" stroke-width="0.8"/>
<line x1="133.79" y1="511.5" x2="133.79" y2="513.46" stroke="#0000ff" stroke-width="0.8"/>
<line x1="83.19" y1="510.05" x2="83.19" y2="513.02" stroke="#0000ff" stroke-width="0.8"/>
<line x1="299.07" y1="511.5" x2="299.07" y2="515.43" stroke="#0000ff" stroke-width="0.8"/>
<line x1="111.14" y1="511.5" x2="111.14" y2="514.72" stroke="#0000ff" stroke-width="0.8"/>
<line x1="177.61" y1="511.5" x2="177.61" y2="514.58" stroke="#0000ff" stroke-width="0.8"/>
<line x1="172.36" y1="511.5" x2="172.36" y2="515.33" stroke="#0000ff" stroke-width="0.8"/>
<line x1="310.19" y1="511.5" x2="310.19" y2="513.12" stroke="#0000ff" stroke-width="0.8"/>
<line x1="246.05" y1="511.5" x2="246.05" y2="513.3" stroke="#0000ff" stroke-width="0.8"/>
<line x1="89.87" y1="510.79" x2="89.87" y2="513" stroke="#0000ff" stroke-width="0.8"/>
<line x1="250.23" y1="511.5" x2="250.23" y2="515.48" stroke="#0000ff" stroke-width="0.8"/>
<line x1="107.97" y1="511.5" x2="107.97" y2="513.83" stroke="#0000ff" stroke-width="0.8"/>
<line x1="312.6" y1="507" x2="312.6" y2="445.4" stroke="#5a5aff" stroke-width="1.0"/>
<polyline points="71,614 72.6,612.6 74.6,611 75.6,607 75.8,596 76,545.4 313,545.4 313,627" fill="none" stroke="#ff1a1a" stroke-width="1.1" stroke-linejoin="round"/>
<polyline points="413.3,429.9 413.3,421.2 414.7,418.5 416.7,415.6 417.6,413.9 419.4,413.2 422.7,412.1 427.4,411.2 427.7,371.7 428.1,367.1 428.7,365.7 429.4,369 429.8,365 431.4,361.7 432.7,359.7 434.1,357.7 436.1,355.7 439.4,354.1 444.1,353.3 448.1,353.7 453.5,353.7 454.4,353.66 455.3,353.52 456.2,353.35 457.1,353.21 458,353.57 459,353.7 460,353.31 461,353.5 462,353.81 463,354.04 464,354.33 465,353.9 465.91,354.2 466.82,354.1 467.73,354.35 468.64,353.79 469.55,353.84 470.45,353.81 471.36,354.58 472.27,353.99 473.18,354.23 474.09,353.93 475,354.14 475.91,353.89 476.82,354.41 477.73,354.06 478.64,354.52 479.55,354.23 480.45,354.22 481.36,354.47 482.27,354.4 483.18,354.33 484.09,354.17 485,354.21 485.91,354.98 486.82,354.48 487.73,354.3 488.64,354.42 489.55,354.72 490.45,355.21 491.36,354.52 492.27,355.15 493.18,354.83 494.09,354.8 495,355.18 495.91,354.83 496.82,354.56 497.73,355.03 498.64,355.15 499.55,355.15 500.45,354.86 501.36,355.49 502.27,355.45 503.18,355.59 504.09,355.12 505,355.5 505.91,355.41 506.82,354.93 507.73,354.8 508.64,354.94 509.55,354.9 510.45,354.87 511.36,355.14 512.27,355.5 513.18,355.11 514.09,355.3 515,354.86 515.91,355.05 516.82,355.73 517.73,354.89 518.64,355.36 519.55,355.62 520.45,355.62 521.36,355.58 522.27,355.28 523.18,355.65 524.09,355.69 525,355.64 525.94,355.87 526.89,355.11 527.83,355.91 528.78,355.45 529.72,355.75 530.67,355.38 531.61,356 532.56,355.24 533.5,355.77 534.44,355.49 535.39,355.67 536.33,355.68 537.28,355.97 538.22,356.15 539.17,355.78 540.11,356.06 541.06,355.84 542,355.8 542.94,356.4 543.88,355.91 544.82,355.74 545.76,355.99 546.71,356.39 547.65,355.95 548.59,356.47 549.53,356.32 550.47,356.48 551.41,356.06 552.35,356.03 553.29,356.1 554.24,356.32 555.18,356.43 556.12,356.09 557.06,356.57 558,356.51 558.91,356.44 559.82,356.63 560.73,357.01 561.64,356.33 562.55,356.94 563.45,356.44 564.36,356.83 565.27,356.25 566.18,357.04 567.09,356.54 568,357.02 568.91,356.35 569.82,356.52 570.73,356.79 571.64,356.31 572.55,356.4 573.45,356.76 574.36,357 575.27,356.44 576.18,356.32 577.09,356.47 578,357.04 578.91,356.3 579.82,356.76 580.73,356.54 581.64,356.8 582.55,356.43 583.45,356.81 584.36,357.08 585.27,357.07 586.18,356.88 587.09,356.79 588,356.86 588.91,356.47 589.82,357.14 590.73,357.03 591.64,356.83 592.55,357.04 593.45,356.84 594.36,356.82 595.27,356.7 596.18,357.05 597.09,357.05 598,357.01 598.91,356.59 599.82,357.13 600.73,356.98 601.64,357.12 602.55,357.13 603.45,357.44 604.36,356.75 605.27,357.04 606.18,357.53 607.09,357.31 608,356.93 608.91,357.32 609.82,357.56 610.73,357.04 611.64,357.47 612.55,356.81 613.45,357.6 614.36,357.16 615.27,356.93 616.18,357.49 617.09,357.33 618,357.59 618.91,357.51 619.82,357.49 620.73,357.24 621.64,357.68 622.55,356.85 623.45,357.59 624.36,357.45 625.27,357.05 626.18,357.56 627.09,357.25 628,357.33 628.91,357.64 629.82,357.04 630.73,357.13 631.64,357.47 632.55,356.96 633.45,357.4 634.36,357.62 635.27,357.36 636.18,357.15 637.09,357.66 638,357.72 638.91,357.65 639.82,357.46 640.72,357.79 641.63,357.7 642.54,357.13 643.45,357.33 644.35,357.09 645.26,357.04 646.17,357.33 647.08,357.81 647.98,357.79 648.89,357.15 649.8,357.21 650.71,357.41 651.62,357.83 652.52,357.63 653.43,357.89 654.34,357.15 655.25,357.99 656.15,357.29 657.06,357.68 657.97,357.91 658.88,357.78 659.78,357.31 660.69,357.74 661.6,357.54" fill="none" stroke="#0a850a" stroke-width="1.25" stroke-linejoin="round"/>
<polyline points="413,446.4 427.4,446.4 427.6,499 428,512 428.6,503 429.2,516 429.8,497 430.4,520 431,505 431.6,529 432.2,506 432.8,527 433.4,508 434,517" fill="none" stroke="#0000ff" stroke-width="1.0" stroke-linejoin="round"/>
<polygon points="434,504.44 434.5,505.35 435,505.28 435.5,506.16 436,505.18 436.5,506.09 437,506.35 437.5,504.91 438,504.76 438.5,506.34 439,505.71 439.5,504.76 440,504.72 440.5,507.03 441,506.11 441.5,505.4 442,504.95 442.5,507.19 443,506.34 443.5,506.46 444,505.41 444.5,505.27 445,505.54 445.5,504.81 446,506.17 446.5,505.59 447,506.7 447.5,505.55 448,505.68 448.5,505.82 449,507.04 449.5,505.37 450,506.37 450.5,505.06 451,506.02 451.5,505.2 452,506.84 452.5,505.2 453,506.79 453.5,506.29 454,505.67 454.5,507.01 455,505.49 455.5,506.48 456,506.08 456.5,505.66 457,504.58 457.5,505.57 458,505.19 458.5,505.63 459,507.07 459.5,505.22 460,506.35 460.5,506.28 461,505.09 461.5,505.55 462,504.77 462.5,506.91 463,505.1 463.5,505.58 464,505.36 464.5,506.7 465,506.78 465.5,506.05 466,505.93 466.5,504.68 467,506.91 467.5,504.65 468,505.42 468.5,505.45 469,506.42 469.5,506.27 470,505.36 470.5,506.91 471,507.06 471.5,504.47 472,506.17 472.5,505.71 473,505.41 473.5,505.7 474,505.28 474.5,506.28 475,506.1 475.5,507.12 476,507.13 476.5,507.18 477,505.51 477.5,506.72 478,506.22 478.5,506.36 479,507.19 479.5,504.59 480,505.69 480.5,505.52 481,506.24 481.5,505.01 482,507.17 482.5,504.99 483,505.44 483.5,504.8 484,505.51 484.5,506.48 485,504.63 485.5,504.87 486,506.22 486.5,506.14 487,506.48 487.5,505.11 488,506.67 488.5,506.45 489,506.57 489.5,504.74 490,505.71 490.5,504.44 491,506.81 491.5,507.04 492,506.91 492.5,504.47 493,505.38 493.5,505.9 494,505.89 494.5,504.71 495,506.61 495.5,505.24 496,505.82 496.5,504.75 497,505.99 497.5,504.76 498,504.65 498.5,505.83 499,505.22 499.5,506.58 500,505.09 500.5,505.56 501,504.55 501.5,505.01 502,505.66 502.5,505.96 503,505.69 503.5,506.78 504,504.69 504.5,506.78 505,504.83 505.5,507.12 506,505.87 506.5,505.54 507,506.11 507.5,506.82 508,507.1 508.5,505.56 509,504.43 509.5,504.83 510,506.69 510.5,506.46 511,506.4 511.5,504.84 512,505.89 512.5,504.48 513,504.71 513.5,505.24 514,507.11 514.5,506.2 515,506.77 515.5,504.53 516,505.57 516.5,504.62 517,505.13 517.5,504.71 518,506.97 518.5,505.32 519,505.77 519.5,506.23 520,506.88 520.5,507.05 521,505.99 521.5,505.8 522,506.93 522.5,505.5 523,505.24 523.5,506.47 524,505.12 524.5,505.43 525,505.6 525.5,505.74 526,505.4 526.5,505.61 527,505.66 527.5,504.54 528,506.74 528.5,504.57 529,505.88 529.5,505.93 530,505.52 530.5,505.02 531,504.68 531.5,505.44 532,505.28 532.5,505.76 533,505.04 533.5,506.5 534,505.76 534.5,504.43 535,505.54 535.5,507.11 536,504.42 536.5,506.06 537,507.09 537.5,505.42 538,506.07 538.5,505.43 539,505.24 539.5,506.11 540,506.05 540.5,505.28 541,505.79 541.5,505.85 542,506.51 542.5,504.55 543,504.66 543.5,505.11 544,505.16 544.5,506.63 545,505.59 545.5,506.81 546,505.53 546.5,505.2 547,506.3 547.5,504.64 548,507.16 548.5,506.73 549,505.32 549.5,505.29 550,506.69 550.5,506.61 551,506.2 551.5,504.56 552,506.54 552.5,504.53 553,506.15 553.5,505.95 554,507 554.5,506.19 555,504.46 555.5,507.02 556,506.51 556.5,506.02 557,504.42 557.5,506.46 558,505.57 558.5,506.3 559,507.15 559.5,506.97 560,504.61 560.5,506.59 561,505.63 561.5,506.5 562,505.46 562.5,505.65 563,505.62 563.5,504.73 564,505.3 564.5,506.46 565,504.6 565.5,504.72 566,506.74 566.5,506.27 567,505.93 567.5,504.72 568,504.73 568.5,505.27 569,507.07 569.5,505.97 570,506.98 570.5,504.99 571,505.56 571.5,505.9 572,506.75 572.5,504.75 573,506.85 573.5,505.72 574,504.49 574.5,505.61 575,505.46 575.5,506.29 576,507 576.5,505.78 577,506.33 577.5,505.49 578,506.58 578.5,504.69 579,506.48 579.5,504.87 580,506.04 580.5,504.97 581,505.37 581.5,504.86 582,505.38 582.5,506.06 583,505.86 583.5,505.49 584,506.01 584.5,506.76 585,505.4 585.5,506.03 586,505.75 586.5,507.15 587,505.32 587.5,506.35 588,505.05 588.5,505.13 589,506.45 589.5,506.01 590,505.12 590.5,504.58 591,506.71 591.5,505.46 592,506.41 592.5,505.61 593,506.13 593.5,505.97 594,507.13 594.5,506.95 595,505.68 595.5,505.76 596,505.05 596.5,506.51 597,504.69 597.5,505.26 598,506.77 598.5,504.5 599,506.36 599.5,505.99 600,505.94 600.5,505.33 601,504.82 601.5,507.06 602,506.54 602.5,506.66 603,504.67 603.5,506.6 604,505.01 604.5,504.96 605,505.9 605.5,506.11 606,504.74 606.5,506.54 607,506.03 607.5,506.92 608,506.99 608.5,506.33 609,505.42 609.5,507.06 610,506.41 610.5,505.21 611,506.8 611.5,506.44 612,505.14 612.5,505.1 613,504.46 613.5,505.9 614,505.11 614.5,505.22 615,505.11 615.5,504.77 616,505.76 616.5,505.16 617,505.2 617.5,505.18 618,505.83 618.5,506.85 619,504.85 619.5,506.81 620,506.79 620.5,506.11 621,505.92 621.5,506.45 622,505.9 622.5,506.25 623,506.97 623.5,506.57 624,505.13 624.5,504.55 625,507.02 625.5,505.42 626,506.6 626.5,505.05 627,505.67 627.5,505.44 628,506.44 628.5,507.04 629,505.82 629.5,505.98 630,505.38 630.5,505.05 631,507.06 631.5,504.71 632,507.03 632.5,506.24 633,504.6 633.5,506.92 634,504.69 634.5,505.98 635,504.74 635.5,507.17 636,505.27 636.5,506.84 637,504.57 637.5,506.27 638,504.59 638.5,504.48 639,506 639.5,507.15 640,506.32 640.5,506.79 641,506.6 641.5,505.86 642,504.62 642.5,505.88 643,504.92 643.5,505.87 644,505.39 644.5,505.8 645,504.95 645.5,506.37 646,505.57 646.5,505.76 647,504.62 647.5,505.76 648,505.96 648.5,507.12 649,505.97 649.5,504.78 650,505.24 650.5,505.34 651,506.37 651.5,507.03 652,507.13 652.5,507.06 653,506.99 653.5,506.8 654,507.02 654.5,504.46 655,505.77 655.5,506.05 656,506.32 656.5,506.12 657,506.12 657.5,507.01 658,504.64 658.5,505.85 659,507.09 659.5,504.49 660,504.71 660.5,506.83 661,507.08 661.5,504.47 661.5,515.09 661,517.32 660.5,516.93 660,516.46 659.5,516.62 659,517.12 658.5,517.26 658,515 657.5,515.19 657,517.22 656.5,517.73 656,517.33 655.5,516.14 655,515.94 654.5,515.97 654,515.04 653.5,517.16 653,515.73 652.5,516.64 652,516.47 651.5,515.94 651,516.89 650.5,516.27 650,515.66 649.5,517.47 649,515.49 648.5,515.42 648,515.71 647.5,516.34 647,517.19 646.5,515.93 646,515.67 645.5,516.83 645,515.73 644.5,516.46 644,515.71 643.5,517.46 643,515.52 642.5,515.65 642,515.84 641.5,515.92 641,517.03 640.5,516.89 640,517.21 639.5,516.51 639,515.22 638.5,517.14 638,515.68 637.5,515.61 637,516.16 636.5,517.77 636,516.04 635.5,516 635,517.55 634.5,517.77 634,516.08 633.5,515.38 633,517.21 632.5,517.19 632,515.95 631.5,517.21 631,516.06 630.5,515.8 630,516.66 629.5,517.08 629,516.33 628.5,517.29 628,515.04 627.5,516.4 627,516.07 626.5,515.18 626,517.56 625.5,515.4 625,515.58 624.5,517.46 624,517.69 623.5,517.61 623,515.96 622.5,517.61 622,515.4 621.5,517 621,517.65 620.5,515.54 620,515.38 619.5,516.9 619,517.47 618.5,517.03 618,517.66 617.5,516.27 617,516.04 616.5,515.34 616,515.76 615.5,517.63 615,515.2 614.5,515.52 614,515.97 613.5,515.14 613,515.86 612.5,515.51 612,515.34 611.5,516.48 611,516.51 610.5,516.59 610,517.13 609.5,516.47 609,517.65 608.5,515.23 608,515.62 607.5,515.21 607,515.87 606.5,517.13 606,517.59 605.5,516.41 605,515.45 604.5,515.93 604,516.59 603.5,515.82 603,517.22 602.5,517.72 602,516.29 601.5,516.69 601,517.37 600.5,516.3 600,515.53 599.5,517.64 599,517.74 598.5,515.07 598,517.14 597.5,516.12 597,515.15 596.5,515.46 596,515.48 595.5,517.06 595,515.59 594.5,515.05 594,515.62 593.5,517.24 593,516.4 592.5,516.83 592,516.3 591.5,515.51 591,515.04 590.5,515.85 590,515.12 589.5,515.73 589,516.73 588.5,516.03 588,516.32 587.5,516.75 587,515.89 586.5,516 586,517.47 585.5,516.63 585,516.17 584.5,516.51 584,516.29 583.5,515.93 583,517.56 582.5,515.65 582,517.62 581.5,517.39 581,517.47 580.5,515.46 580,516.42 579.5,517.76 579,515.81 578.5,515.48 578,517.03 577.5,515.66 577,516.63 576.5,515.44 576,517.65 575.5,515.8 575,515.27 574.5,516.92 574,515.97 573.5,516.57 573,516.39 572.5,517.58 572,516.44 571.5,516.06 571,515 570.5,516.39 570,515.75 569.5,516.61 569,516.77 568.5,516.29 568,515.25 567.5,516.39 567,516.35 566.5,516.8 566,517.72 565.5,515.78 565,516.24 564.5,515.24 564,517.24 563.5,515.66 563,517.32 562.5,517.23 562,515.71 561.5,517.53 561,516.41 560.5,516.19 560,516.55 559.5,517.65 559,516.37 558.5,516.35 558,515.81 557.5,517.36 557,516.41 556.5,515.96 556,515.55 555.5,515.6 555,517.34 554.5,517.25 554,517.74 553.5,517.57 553,516.92 552.5,517.23 552,516.99 551.5,517.27 551,517.24 550.5,515.49 550,517.28 549.5,515.85 549,515.68 548.5,517.57 548,515.06 547.5,516.43 547,515.96 546.5,517.22 546,516.71 545.5,517.55 545,517.61 544.5,516.8 544,515.18 543.5,516.87 543,515.31 542.5,517.75 542,517.44 541.5,515.87 541,515.52 540.5,516.94 540,517.12 539.5,517.76 539,516.74 538.5,515.35 538,517.03 537.5,515.16 537,517.43 536.5,517.15 536,517.2 535.5,517.45 535,516.59 534.5,517.64 534,516.79 533.5,516.38 533,516.08 532.5,515.99 532,515.06 531.5,515.45 531,517.23 530.5,515.64 530,516.83 529.5,517.17 529,516.94 528.5,516.44 528,515.88 527.5,515.76 527,515.52 526.5,516.81 526,516.92 525.5,517.64 525,515.93 524.5,517.6 524,517.55 523.5,515.81 523,517.67 522.5,516.73 522,517.7 521.5,517.17 521,515.93 520.5,515.78 520,516.46 519.5,516.37 519,515.1 518.5,517.42 518,516.5 517.5,516.32 517,517.08 516.5,515.7 516,515.56 515.5,516.63 515,515.68 514.5,515.92 514,515.2 513.5,515.15 513,515.99 512.5,516.48 512,517.66 511.5,516.79 511,516.16 510.5,516.14 510,515.66 509.5,516.33 509,517.69 508.5,515.34 508,516.21 507.5,516.92 507,517.13 506.5,516.55 506,516.8 505.5,517.63 505,517.53 504.5,515.7 504,516.52 503.5,517.79 503,516.48 502.5,515.53 502,517.15 501.5,515.16 501,515.42 500.5,516.54 500,515.76 499.5,517.02 499,517.03 498.5,515.89 498,517.15 497.5,516.81 497,516.98 496.5,516.28 496,516.21 495.5,515.3 495,516.33 494.5,517.67 494,517.49 493.5,515.16 493,515.2 492.5,515.75 492,516.94 491.5,516.23 491,515.36 490.5,516.19 490,516.6 489.5,517.08 489,516.13 488.5,516.82 488,516.91 487.5,516.72 487,515.13 486.5,516.99 486,515.36 485.5,515.15 485,516.33 484.5,515.05 484,515.2 483.5,516.09 483,516.31 482.5,515.3 482,517.67 481.5,517.39 481,516.36 480.5,516.65 480,515.88 479.5,517.75 479,515.34 478.5,515.85 478,515.62 477.5,517.42 477,516.42 476.5,516.15 476,516.12 475.5,517.48 475,515.72 474.5,517.22 474,516.98 473.5,516.26 473,516.02 472.5,516.22 472,516.27 471.5,515.88 471,516.75 470.5,516.15 470,515.85 469.5,517.16 469,516.27 468.5,516.33 468,517.46 467.5,516.27 467,516.05 466.5,517.51 466,517.73 465.5,517.2 465,516.12 464.5,516.88 464,517.07 463.5,515.83 463,517.03 462.5,517.66 462,516.84 461.5,516.87 461,516.22 460.5,516.83 460,515.63 459.5,517.16 459,516.51 458.5,517.74 458,515.96 457.5,516.99 457,515.05 456.5,516.17 456,517.15 455.5,515.73 455,516.72 454.5,515.62 454,516.12 453.5,517.78 453,515.55 452.5,517.56 452,515.17 451.5,516.63 451,517.3 450.5,517.34 450,516.1 449.5,516.65 449,516.99 448.5,517.13 448,517.09 447.5,516.62 447,515.7 446.5,516.97 446,516.57 445.5,516.52 445,517.76 444.5,515.38 444,517.19 443.5,515.91 443,517.03 442.5,517.66 442,515.77 441.5,516.59 441,516.48 440.5,516.39 440,515.47 439.5,516.75 439,517.5 438.5,516.86 438,515.81 437.5,517.26 437,516.18 436.5,515.41 436,516.7 435.5,516.29 435,516.48 434.5,517.78 434,516.59" fill="#0000ff" stroke="#0000ff" stroke-width="0.4"/>
<line x1="651.01" y1="505.8" x2="651.01" y2="503.24" stroke="#0000ff" stroke-width="0.8"/>
<line x1="606.73" y1="505.8" x2="606.73" y2="504.07" stroke="#0000ff" stroke-width="0.8"/>
<line x1="502.37" y1="505.8" x2="502.37" y2="502.22" stroke="#0000ff" stroke-width="0.8"/>
<line x1="591.09" y1="505.8" x2="591.09" y2="501.81" stroke="#0000ff" stroke-width="0.8"/>
<line x1="520.53" y1="505.8" x2="520.53" y2="503.48" stroke="#0000ff" stroke-width="0.8"/>
<line x1="515.58" y1="505.8" x2="515.58" y2="502.69" stroke="#0000ff" stroke-width="0.8"/>
<line x1="439.5" y1="505.8" x2="439.5" y2="503.18" stroke="#0000ff" stroke-width="0.8"/>
<line x1="583.59" y1="505.8" x2="583.59" y2="503.85" stroke="#0000ff" stroke-width="0.8"/>
<line x1="504.81" y1="505.8" x2="504.81" y2="501.68" stroke="#0000ff" stroke-width="0.8"/>
<line x1="646.48" y1="505.8" x2="646.48" y2="503.55" stroke="#0000ff" stroke-width="0.8"/>
<line x1="474.5" y1="505.8" x2="474.5" y2="503.95" stroke="#0000ff" stroke-width="0.8"/>
<line x1="453.51" y1="505.8" x2="453.51" y2="501.92" stroke="#0000ff" stroke-width="0.8"/>
<line x1="602.2" y1="505.8" x2="602.2" y2="503.51" stroke="#0000ff" stroke-width="0.8"/>
<line x1="545.32" y1="505.8" x2="545.32" y2="502.21" stroke="#0000ff" stroke-width="0.8"/>
<line x1="440.39" y1="505.8" x2="440.39" y2="501.84" stroke="#0000ff" stroke-width="0.8"/>
<line x1="629.63" y1="505.8" x2="629.63" y2="503.67" stroke="#0000ff" stroke-width="0.8"/>
<line x1="594.1" y1="505.8" x2="594.1" y2="502.2" stroke="#0000ff" stroke-width="0.8"/>
<line x1="510.71" y1="505.8" x2="510.71" y2="501.66" stroke="#0000ff" stroke-width="0.8"/>
<line x1="483.71" y1="505.8" x2="483.71" y2="502.88" stroke="#0000ff" stroke-width="0.8"/>
<line x1="505.4" y1="505.8" x2="505.4" y2="502.97" stroke="#0000ff" stroke-width="0.8"/>
<line x1="618.88" y1="505.8" x2="618.88" y2="502.59" stroke="#0000ff" stroke-width="0.8"/>
<line x1="572.67" y1="505.8" x2="572.67" y2="501.34" stroke="#0000ff" stroke-width="0.8"/>
<line x1="484.85" y1="505.8" x2="484.85" y2="503.63" stroke="#0000ff" stroke-width="0.8"/>
<line x1="575.04" y1="505.8" x2="575.04" y2="503.85" stroke="#0000ff" stroke-width="0.8"/>
<line x1="653.46" y1="505.8" x2="653.46" y2="503.28" stroke="#0000ff" stroke-width="0.8"/>
<line x1="534.15" y1="505.8" x2="534.15" y2="503.01" stroke="#0000ff" stroke-width="0.8"/>
<line x1="622.38" y1="505.8" x2="622.38" y2="501.55" stroke="#0000ff" stroke-width="0.8"/>
<line x1="588.09" y1="505.8" x2="588.09" y2="503.79" stroke="#0000ff" stroke-width="0.8"/>
<line x1="514.84" y1="505.8" x2="514.84" y2="502.18" stroke="#0000ff" stroke-width="0.8"/>
<line x1="483.18" y1="505.8" x2="483.18" y2="501.65" stroke="#0000ff" stroke-width="0.8"/>
<line x1="632.53" y1="516.4" x2="632.53" y2="518.47" stroke="#0000ff" stroke-width="0.8"/>
<line x1="516.91" y1="516.4" x2="516.91" y2="518.47" stroke="#0000ff" stroke-width="0.8"/>
<line x1="597.55" y1="516.4" x2="597.55" y2="518.02" stroke="#0000ff" stroke-width="0.8"/>
<line x1="592.34" y1="516.4" x2="592.34" y2="518.06" stroke="#0000ff" stroke-width="0.8"/>
<line x1="625.44" y1="516.4" x2="625.44" y2="519.26" stroke="#0000ff" stroke-width="0.8"/>
<line x1="566.73" y1="516.4" x2="566.73" y2="518.14" stroke="#0000ff" stroke-width="0.8"/>
<line x1="444.07" y1="516.4" x2="444.07" y2="518.78" stroke="#0000ff" stroke-width="0.8"/>
<line x1="658.12" y1="516.4" x2="658.12" y2="519.4" stroke="#0000ff" stroke-width="0.8"/>
<line x1="630.26" y1="516.4" x2="630.26" y2="518.06" stroke="#0000ff" stroke-width="0.8"/>
<line x1="457.18" y1="516.4" x2="457.18" y2="517.95" stroke="#0000ff" stroke-width="0.8"/>
<line x1="592.63" y1="516.4" x2="592.63" y2="518.34" stroke="#0000ff" stroke-width="0.8"/>
<line x1="496.06" y1="516.4" x2="496.06" y2="519.57" stroke="#0000ff" stroke-width="0.8"/>
<line x1="592.3" y1="516.4" x2="592.3" y2="518.71" stroke="#0000ff" stroke-width="0.8"/>
<line x1="540.39" y1="516.4" x2="540.39" y2="518.62" stroke="#0000ff" stroke-width="0.8"/>
<line x1="561.76" y1="516.4" x2="561.76" y2="518.79" stroke="#0000ff" stroke-width="0.8"/>
<line x1="515.94" y1="516.4" x2="515.94" y2="518.52" stroke="#0000ff" stroke-width="0.8"/>
<line x1="500.5" y1="516.4" x2="500.5" y2="518.55" stroke="#0000ff" stroke-width="0.8"/>
<line x1="437.69" y1="516.4" x2="437.69" y2="518.68" stroke="#0000ff" stroke-width="0.8"/>
<polyline points="413,622.4 413.4,625 415,626.2 417.4,626.2 417.4,620.4 417.6,626.2 427.4,626.2 427.4,547 661.6,547" fill="none" stroke="#ff1a1a" stroke-width="1.2" stroke-linejoin="round"/>
<text x="68.6" y="287.9" font-size="12.6" font-weight="bold" fill="#6aaa46">1<tspan font-size="8.2" dy="-3.9">st</tspan></text>
<text x="88.5" y="242.9" font-size="12.6" font-weight="bold" fill="#ea7a2c">2<tspan font-size="8.2" dy="-3.9">nd</tspan></text>
<text x="181.5" y="227.4" font-size="12.6" font-weight="bold" fill="#c00000">3<tspan font-size="8.2" dy="-3.9">rd</tspan></text>
<text x="291.8" y="253.4" font-size="12.6" font-weight="bold" fill="#000">4<tspan font-size="8.2" dy="-3.9">th</tspan></text>
<text x="416.4" y="289.6" font-size="12.6" font-weight="bold" fill="#6aaa46">1<tspan font-size="8.2" dy="-3.9">st</tspan></text>
<text x="453.4" y="243.9" font-size="12.6" font-weight="bold" fill="#ea7a2c">2<tspan font-size="8.2" dy="-3.9">nd</tspan></text>
<text x="520.3" y="238" font-size="12.6" font-weight="bold" fill="#c00000">3<tspan font-size="8.2" dy="-3.9">rd</tspan></text>
<text x="610.8" y="249.6" font-size="12.6" font-weight="bold" fill="#000">4<tspan font-size="8.2" dy="-3.9">th</tspan></text>
<text x="70" y="627.6" font-size="12.6" font-weight="bold" fill="#6aaa46">1<tspan font-size="8.2" dy="-3.9">st</tspan></text>
<text x="89.8" y="581" font-size="12.6" font-weight="bold" fill="#ea7a2c">2<tspan font-size="8.2" dy="-3.9">nd</tspan></text>
<text x="182" y="565" font-size="12.6" font-weight="bold" fill="#c00000">3<tspan font-size="8.2" dy="-3.9">rd</tspan></text>
<text x="292.4" y="591.6" font-size="12.6" font-weight="bold" fill="#000">4<tspan font-size="8.2" dy="-3.9">th</tspan></text>
<text x="410.4" y="614" font-size="12.6" font-weight="bold" fill="#6aaa46">1<tspan font-size="8.2" dy="-3.9">st</tspan></text>
<text x="437" y="576" font-size="12.6" font-weight="bold" fill="#ea7a2c">2<tspan font-size="8.2" dy="-3.9">nd</tspan></text>
<text x="529.4" y="560" font-size="12.6" font-weight="bold" fill="#c00000">3<tspan font-size="8.2" dy="-3.9">rd</tspan></text>
<line x1="429" y1="210" x2="639.7" y2="210" stroke="#dc4444" stroke-width="1.2" stroke-dasharray="3.4,2.1"/>
<line x1="527.6" y1="210.7" x2="527.6" y2="220.5" stroke="#c00000" stroke-width="1.1" stroke-dasharray="2.6,2"/>
<polygon points="525.4,221.2 529.8,221.2 527.6,225.9" fill="#c00000"/>
<line x1="430.6" y1="214" x2="430.6" y2="267" stroke="#ea7a2c" stroke-width="1.1" stroke-dasharray="3.4,2.1"/>
<line x1="430.6" y1="239.2" x2="442" y2="239.2" stroke="#ea7a2c" stroke-width="1.1" stroke-dasharray="3.4,2.1"/>
<polygon points="442.3,237.3 442.3,241.3 447.8,239.3" fill="#ea7a2c"/>
<rect x="413.5" y="272.4" width="11.5" height="5.2" fill="none" stroke="#86bf66" stroke-width="1.0" stroke-dasharray="2.6,1.8"/>
<line x1="645.4" y1="211.3" x2="645.4" y2="280.8" stroke="#222" stroke-width="1.1" stroke-dasharray="3.4,2.1"/>
<line x1="645.4" y1="245.2" x2="634.5" y2="245.2" stroke="#222" stroke-width="1.1" stroke-dasharray="3.4,2.1"/>
<polygon points="634.2,242.9 634.2,247.3 629.2,245.1" fill="#111"/>
<line x1="60.8" y1="95.07" x2="63" y2="95.07" stroke="#333" stroke-width="1"/>
<line x1="60.8" y1="76.02" x2="63" y2="76.02" stroke="#333" stroke-width="1"/>
<line x1="60.8" y1="56.98" x2="63" y2="56.98" stroke="#333" stroke-width="1"/>
<line x1="60.8" y1="37.92" x2="63" y2="37.92" stroke="#333" stroke-width="1"/>
<line x1="60.8" y1="18.88" x2="63" y2="18.88" stroke="#333" stroke-width="1"/>
<line x1="60.8" y1="-0.18" x2="63" y2="-0.18" stroke="#333" stroke-width="1"/>
<line x1="59" y1="85.55" x2="63" y2="85.55" stroke="#333" stroke-width="1"/>
<text x="56.4" y="89.65" font-size="11.4" text-anchor="end">60</text>
<line x1="59" y1="66.5" x2="63" y2="66.5" stroke="#333" stroke-width="1"/>
<text x="56.4" y="70.6" font-size="11.4" text-anchor="end">80</text>
<line x1="59" y1="47.45" x2="63" y2="47.45" stroke="#333" stroke-width="1"/>
<text x="56.4" y="51.55" font-size="11.4" text-anchor="end">100</text>
<line x1="59" y1="28.4" x2="63" y2="28.4" stroke="#333" stroke-width="1"/>
<text x="56.4" y="32.5" font-size="11.4" text-anchor="end">120</text>
<line x1="59" y1="9.35" x2="63" y2="9.35" stroke="#333" stroke-width="1"/>
<text x="56.4" y="13.45" font-size="11.4" text-anchor="end">140</text>
<text x="30.6" y="50" font-size="13.15" text-anchor="middle" transform="rotate(-90 30.6 50)">Temp. (<tspan font-size="9.6" dy="-4.3">o</tspan><tspan dy="4.3">C)</tspan></text>
<line x1="60.8" y1="180.91" x2="63" y2="180.91" stroke="#333" stroke-width="1"/>
<line x1="60.8" y1="164.54" x2="63" y2="164.54" stroke="#333" stroke-width="1"/>
<line x1="60.8" y1="148.18" x2="63" y2="148.18" stroke="#333" stroke-width="1"/>
<line x1="60.8" y1="131.81" x2="63" y2="131.81" stroke="#333" stroke-width="1"/>
<line x1="60.8" y1="115.43" x2="63" y2="115.43" stroke="#333" stroke-width="1"/>
<line x1="60.8" y1="99.06" x2="63" y2="99.06" stroke="#333" stroke-width="1"/>
<line x1="59" y1="189.1" x2="63" y2="189.1" stroke="#333" stroke-width="1"/>
<text x="56.4" y="193.2" font-size="11.4" text-anchor="end">0</text>
<line x1="59" y1="172.73" x2="63" y2="172.73" stroke="#333" stroke-width="1"/>
<text x="56.4" y="176.83" font-size="11.4" text-anchor="end">20</text>
<line x1="59" y1="156.36" x2="63" y2="156.36" stroke="#333" stroke-width="1"/>
<text x="56.4" y="160.46" font-size="11.4" text-anchor="end">40</text>
<line x1="59" y1="139.99" x2="63" y2="139.99" stroke="#333" stroke-width="1"/>
<text x="56.4" y="144.09" font-size="11.4" text-anchor="end">60</text>
<line x1="59" y1="123.62" x2="63" y2="123.62" stroke="#333" stroke-width="1"/>
<text x="56.4" y="127.72" font-size="11.4" text-anchor="end">80</text>
<line x1="59" y1="107.25" x2="63" y2="107.25" stroke="#333" stroke-width="1"/>
<text x="56.4" y="111.35" font-size="11.4" text-anchor="end">100</text>
<text x="30.6" y="148" font-size="13.15" text-anchor="middle" transform="rotate(-90 30.6 148)">Current (A)</text>
<line x1="60.8" y1="287.48" x2="63" y2="287.48" stroke="#333" stroke-width="1"/>
<line x1="60.8" y1="269.44" x2="63" y2="269.44" stroke="#333" stroke-width="1"/>
<line x1="60.8" y1="251.4" x2="63" y2="251.4" stroke="#333" stroke-width="1"/>
<line x1="60.8" y1="233.36" x2="63" y2="233.36" stroke="#333" stroke-width="1"/>
<line x1="60.8" y1="215.32" x2="63" y2="215.32" stroke="#333" stroke-width="1"/>
<line x1="60.8" y1="197.28" x2="63" y2="197.28" stroke="#333" stroke-width="1"/>
<line x1="59" y1="296.5" x2="63" y2="296.5" stroke="#333" stroke-width="1"/>
<text x="56.4" y="300.6" font-size="11.4" text-anchor="end">0</text>
<line x1="59" y1="278.46" x2="63" y2="278.46" stroke="#333" stroke-width="1"/>
<text x="56.4" y="282.56" font-size="11.4" text-anchor="end">2</text>
<line x1="59" y1="260.42" x2="63" y2="260.42" stroke="#333" stroke-width="1"/>
<text x="56.4" y="264.52" font-size="11.4" text-anchor="end">4</text>
<line x1="59" y1="242.38" x2="63" y2="242.38" stroke="#333" stroke-width="1"/>
<text x="56.4" y="246.48" font-size="11.4" text-anchor="end">6</text>
<line x1="59" y1="224.34" x2="63" y2="224.34" stroke="#333" stroke-width="1"/>
<text x="56.4" y="228.44" font-size="11.4" text-anchor="end">8</text>
<line x1="59" y1="206.3" x2="63" y2="206.3" stroke="#333" stroke-width="1"/>
<text x="56.4" y="210.4" font-size="11.4" text-anchor="end">10</text>
<text x="37" y="246.65" font-size="13.15" text-anchor="middle" transform="rotate(-90 37 246.65)">Voltage (V)</text>
<line x1="75.8" y1="99" x2="75.8" y2="102.6" stroke="#505050" stroke-width="1.1"/>
<line x1="75.8" y1="197.5" x2="75.8" y2="201.1" stroke="#505050" stroke-width="1.1"/>
<line x1="75.8" y1="296.5" x2="75.8" y2="300.4" stroke="#505050" stroke-width="1.2"/>
<line x1="91.8" y1="99" x2="91.8" y2="101" stroke="#505050" stroke-width="1.1"/>
<line x1="91.8" y1="197.5" x2="91.8" y2="199.5" stroke="#505050" stroke-width="1.1"/>
<line x1="91.8" y1="296.5" x2="91.8" y2="298.8" stroke="#505050" stroke-width="1.2"/>
<line x1="107.8" y1="99" x2="107.8" y2="102.6" stroke="#505050" stroke-width="1.1"/>
<line x1="107.8" y1="197.5" x2="107.8" y2="201.1" stroke="#505050" stroke-width="1.1"/>
<line x1="107.8" y1="296.5" x2="107.8" y2="300.4" stroke="#505050" stroke-width="1.2"/>
<line x1="123.8" y1="99" x2="123.8" y2="101" stroke="#505050" stroke-width="1.1"/>
<line x1="123.8" y1="197.5" x2="123.8" y2="199.5" stroke="#505050" stroke-width="1.1"/>
<line x1="123.8" y1="296.5" x2="123.8" y2="298.8" stroke="#505050" stroke-width="1.2"/>
<line x1="139.8" y1="99" x2="139.8" y2="102.6" stroke="#505050" stroke-width="1.1"/>
<line x1="139.8" y1="197.5" x2="139.8" y2="201.1" stroke="#505050" stroke-width="1.1"/>
<line x1="139.8" y1="296.5" x2="139.8" y2="300.4" stroke="#505050" stroke-width="1.2"/>
<line x1="155.8" y1="99" x2="155.8" y2="101" stroke="#505050" stroke-width="1.1"/>
<line x1="155.8" y1="197.5" x2="155.8" y2="199.5" stroke="#505050" stroke-width="1.1"/>
<line x1="155.8" y1="296.5" x2="155.8" y2="298.8" stroke="#505050" stroke-width="1.2"/>
<line x1="171.8" y1="99" x2="171.8" y2="102.6" stroke="#505050" stroke-width="1.1"/>
<line x1="171.8" y1="197.5" x2="171.8" y2="201.1" stroke="#505050" stroke-width="1.1"/>
<line x1="171.8" y1="296.5" x2="171.8" y2="300.4" stroke="#505050" stroke-width="1.2"/>
<line x1="187.8" y1="99" x2="187.8" y2="101" stroke="#505050" stroke-width="1.1"/>
<line x1="187.8" y1="197.5" x2="187.8" y2="199.5" stroke="#505050" stroke-width="1.1"/>
<line x1="187.8" y1="296.5" x2="187.8" y2="298.8" stroke="#505050" stroke-width="1.2"/>
<line x1="203.8" y1="99" x2="203.8" y2="102.6" stroke="#505050" stroke-width="1.1"/>
<line x1="203.8" y1="197.5" x2="203.8" y2="201.1" stroke="#505050" stroke-width="1.1"/>
<line x1="203.8" y1="296.5" x2="203.8" y2="300.4" stroke="#505050" stroke-width="1.2"/>
<line x1="219.8" y1="99" x2="219.8" y2="101" stroke="#505050" stroke-width="1.1"/>
<line x1="219.8" y1="197.5" x2="219.8" y2="199.5" stroke="#505050" stroke-width="1.1"/>
<line x1="219.8" y1="296.5" x2="219.8" y2="298.8" stroke="#505050" stroke-width="1.2"/>
<line x1="235.8" y1="99" x2="235.8" y2="102.6" stroke="#505050" stroke-width="1.1"/>
<line x1="235.8" y1="197.5" x2="235.8" y2="201.1" stroke="#505050" stroke-width="1.1"/>
<line x1="235.8" y1="296.5" x2="235.8" y2="300.4" stroke="#505050" stroke-width="1.2"/>
<line x1="251.8" y1="99" x2="251.8" y2="101" stroke="#505050" stroke-width="1.1"/>
<line x1="251.8" y1="197.5" x2="251.8" y2="199.5" stroke="#505050" stroke-width="1.1"/>
<line x1="251.8" y1="296.5" x2="251.8" y2="298.8" stroke="#505050" stroke-width="1.2"/>
<line x1="267.8" y1="99" x2="267.8" y2="102.6" stroke="#505050" stroke-width="1.1"/>
<line x1="267.8" y1="197.5" x2="267.8" y2="201.1" stroke="#505050" stroke-width="1.1"/>
<line x1="267.8" y1="296.5" x2="267.8" y2="300.4" stroke="#505050" stroke-width="1.2"/>
<line x1="283.8" y1="99" x2="283.8" y2="101" stroke="#505050" stroke-width="1.1"/>
<line x1="283.8" y1="197.5" x2="283.8" y2="199.5" stroke="#505050" stroke-width="1.1"/>
<line x1="283.8" y1="296.5" x2="283.8" y2="298.8" stroke="#505050" stroke-width="1.2"/>
<line x1="299.8" y1="99" x2="299.8" y2="102.6" stroke="#505050" stroke-width="1.1"/>
<line x1="299.8" y1="197.5" x2="299.8" y2="201.1" stroke="#505050" stroke-width="1.1"/>
<line x1="299.8" y1="296.5" x2="299.8" y2="300.4" stroke="#505050" stroke-width="1.2"/>
<line x1="315.8" y1="99" x2="315.8" y2="101" stroke="#505050" stroke-width="1.1"/>
<line x1="315.8" y1="197.5" x2="315.8" y2="199.5" stroke="#505050" stroke-width="1.1"/>
<line x1="315.8" y1="296.5" x2="315.8" y2="298.8" stroke="#505050" stroke-width="1.2"/>
<line x1="331.8" y1="99" x2="331.8" y2="102.6" stroke="#505050" stroke-width="1.1"/>
<line x1="331.8" y1="197.5" x2="331.8" y2="201.1" stroke="#505050" stroke-width="1.1"/>
<line x1="331.8" y1="296.5" x2="331.8" y2="300.4" stroke="#505050" stroke-width="1.2"/>
<text x="75.8" y="311.6" font-size="11.4" text-anchor="middle">0</text>
<text x="107.8" y="311.6" font-size="11.4" text-anchor="middle">100</text>
<text x="139.8" y="311.6" font-size="11.4" text-anchor="middle">200</text>
<text x="171.8" y="311.6" font-size="11.4" text-anchor="middle">300</text>
<text x="203.8" y="311.6" font-size="11.4" text-anchor="middle">400</text>
<text x="235.8" y="311.6" font-size="11.4" text-anchor="middle">500</text>
<text x="267.8" y="311.6" font-size="11.4" text-anchor="middle">600</text>
<text x="299.8" y="311.6" font-size="11.4" text-anchor="middle">700</text>
<text x="331.8" y="311.6" font-size="11.4" text-anchor="middle">800</text>
<text x="197.8" y="331.4" font-size="13.15" text-anchor="middle">Time (s)</text>
<line x1="63" y1="-0.15" x2="63" y2="297" stroke="#303030" stroke-width="1"/>
<line x1="331.5" y1="-0.15" x2="331.5" y2="297" stroke="#303030" stroke-width="1"/>
<line x1="62.5" y1="0.35" x2="332" y2="0.35" stroke="#303030" stroke-width="1"/>
<line x1="61" y1="99" x2="331.5" y2="99" stroke="#303030" stroke-width="1"/>
<line x1="61" y1="197.5" x2="331.5" y2="197.5" stroke="#303030" stroke-width="1"/>
<line x1="59" y1="296.5" x2="332" y2="296.5" stroke="#303030" stroke-width="1"/>
<line x1="403.2" y1="88.8" x2="405.4" y2="88.8" stroke="#333" stroke-width="1"/>
<line x1="403.2" y1="66.6" x2="405.4" y2="66.6" stroke="#333" stroke-width="1"/>
<line x1="403.2" y1="44.4" x2="405.4" y2="44.4" stroke="#333" stroke-width="1"/>
<line x1="403.2" y1="22.2" x2="405.4" y2="22.2" stroke="#333" stroke-width="1"/>
<line x1="403.2" y1="-0" x2="405.4" y2="-0" stroke="#333" stroke-width="1"/>
<line x1="401.4" y1="77.7" x2="405.4" y2="77.7" stroke="#333" stroke-width="1"/>
<text x="398.8" y="81.8" font-size="11.4" text-anchor="end">80</text>
<line x1="401.4" y1="55.5" x2="405.4" y2="55.5" stroke="#333" stroke-width="1"/>
<text x="398.8" y="59.6" font-size="11.4" text-anchor="end">100</text>
<line x1="401.4" y1="33.3" x2="405.4" y2="33.3" stroke="#333" stroke-width="1"/>
<text x="398.8" y="37.4" font-size="11.4" text-anchor="end">120</text>
<line x1="401.4" y1="11.1" x2="405.4" y2="11.1" stroke="#333" stroke-width="1"/>
<text x="398.8" y="15.2" font-size="11.4" text-anchor="end">140</text>
<text x="372.8" y="50" font-size="13.15" text-anchor="middle" transform="rotate(-90 372.8 50)">Temp. (<tspan font-size="9.6" dy="-4.3">o</tspan><tspan dy="4.3">C)</tspan></text>
<line x1="403.2" y1="180.91" x2="405.4" y2="180.91" stroke="#333" stroke-width="1"/>
<line x1="403.2" y1="164.54" x2="405.4" y2="164.54" stroke="#333" stroke-width="1"/>
<line x1="403.2" y1="148.18" x2="405.4" y2="148.18" stroke="#333" stroke-width="1"/>
<line x1="403.2" y1="131.81" x2="405.4" y2="131.81" stroke="#333" stroke-width="1"/>
<line x1="403.2" y1="115.43" x2="405.4" y2="115.43" stroke="#333" stroke-width="1"/>
<line x1="403.2" y1="99.06" x2="405.4" y2="99.06" stroke="#333" stroke-width="1"/>
<line x1="401.4" y1="189.1" x2="405.4" y2="189.1" stroke="#333" stroke-width="1"/>
<text x="398.8" y="193.2" font-size="11.4" text-anchor="end">0</text>
<line x1="401.4" y1="172.73" x2="405.4" y2="172.73" stroke="#333" stroke-width="1"/>
<text x="398.8" y="176.83" font-size="11.4" text-anchor="end">20</text>
<line x1="401.4" y1="156.36" x2="405.4" y2="156.36" stroke="#333" stroke-width="1"/>
<text x="398.8" y="160.46" font-size="11.4" text-anchor="end">40</text>
<line x1="401.4" y1="139.99" x2="405.4" y2="139.99" stroke="#333" stroke-width="1"/>
<text x="398.8" y="144.09" font-size="11.4" text-anchor="end">60</text>
<line x1="401.4" y1="123.62" x2="405.4" y2="123.62" stroke="#333" stroke-width="1"/>
<text x="398.8" y="127.72" font-size="11.4" text-anchor="end">80</text>
<line x1="401.4" y1="107.25" x2="405.4" y2="107.25" stroke="#333" stroke-width="1"/>
<text x="398.8" y="111.35" font-size="11.4" text-anchor="end">100</text>
<text x="372.8" y="148" font-size="13.15" text-anchor="middle" transform="rotate(-90 372.8 148)">Current (A)</text>
<line x1="403.2" y1="287.48" x2="405.4" y2="287.48" stroke="#333" stroke-width="1"/>
<line x1="403.2" y1="269.44" x2="405.4" y2="269.44" stroke="#333" stroke-width="1"/>
<line x1="403.2" y1="251.4" x2="405.4" y2="251.4" stroke="#333" stroke-width="1"/>
<line x1="403.2" y1="233.36" x2="405.4" y2="233.36" stroke="#333" stroke-width="1"/>
<line x1="403.2" y1="215.32" x2="405.4" y2="215.32" stroke="#333" stroke-width="1"/>
<line x1="403.2" y1="197.28" x2="405.4" y2="197.28" stroke="#333" stroke-width="1"/>
<line x1="401.4" y1="296.5" x2="405.4" y2="296.5" stroke="#333" stroke-width="1"/>
<text x="398.8" y="300.6" font-size="11.4" text-anchor="end">0</text>
<line x1="401.4" y1="278.46" x2="405.4" y2="278.46" stroke="#333" stroke-width="1"/>
<text x="398.8" y="282.56" font-size="11.4" text-anchor="end">2</text>
<line x1="401.4" y1="260.42" x2="405.4" y2="260.42" stroke="#333" stroke-width="1"/>
<text x="398.8" y="264.52" font-size="11.4" text-anchor="end">4</text>
<line x1="401.4" y1="242.38" x2="405.4" y2="242.38" stroke="#333" stroke-width="1"/>
<text x="398.8" y="246.48" font-size="11.4" text-anchor="end">6</text>
<line x1="401.4" y1="224.34" x2="405.4" y2="224.34" stroke="#333" stroke-width="1"/>
<text x="398.8" y="228.44" font-size="11.4" text-anchor="end">8</text>
<line x1="401.4" y1="206.3" x2="405.4" y2="206.3" stroke="#333" stroke-width="1"/>
<text x="398.8" y="210.4" font-size="11.4" text-anchor="end">10</text>
<text x="378.8" y="246.65" font-size="13.15" text-anchor="middle" transform="rotate(-90 378.8 246.65)">Voltage (V)</text>
<line x1="415.4" y1="99.2" x2="415.4" y2="102.8" stroke="#505050" stroke-width="1.1"/>
<line x1="415.4" y1="197.5" x2="415.4" y2="201.1" stroke="#505050" stroke-width="1.1"/>
<line x1="415.4" y1="296.5" x2="415.4" y2="300.4" stroke="#505050" stroke-width="1.2"/>
<line x1="441.25" y1="99.2" x2="441.25" y2="101.2" stroke="#505050" stroke-width="1.1"/>
<line x1="441.25" y1="197.5" x2="441.25" y2="199.5" stroke="#505050" stroke-width="1.1"/>
<line x1="441.25" y1="296.5" x2="441.25" y2="298.8" stroke="#505050" stroke-width="1.2"/>
<line x1="467.1" y1="99.2" x2="467.1" y2="102.8" stroke="#505050" stroke-width="1.1"/>
<line x1="467.1" y1="197.5" x2="467.1" y2="201.1" stroke="#505050" stroke-width="1.1"/>
<line x1="467.1" y1="296.5" x2="467.1" y2="300.4" stroke="#505050" stroke-width="1.2"/>
<line x1="492.95" y1="99.2" x2="492.95" y2="101.2" stroke="#505050" stroke-width="1.1"/>
<line x1="492.95" y1="197.5" x2="492.95" y2="199.5" stroke="#505050" stroke-width="1.1"/>
<line x1="492.95" y1="296.5" x2="492.95" y2="298.8" stroke="#505050" stroke-width="1.2"/>
<line x1="518.8" y1="99.2" x2="518.8" y2="102.8" stroke="#505050" stroke-width="1.1"/>
<line x1="518.8" y1="197.5" x2="518.8" y2="201.1" stroke="#505050" stroke-width="1.1"/>
<line x1="518.8" y1="296.5" x2="518.8" y2="300.4" stroke="#505050" stroke-width="1.2"/>
<line x1="544.65" y1="99.2" x2="544.65" y2="101.2" stroke="#505050" stroke-width="1.1"/>
<line x1="544.65" y1="197.5" x2="544.65" y2="199.5" stroke="#505050" stroke-width="1.1"/>
<line x1="544.65" y1="296.5" x2="544.65" y2="298.8" stroke="#505050" stroke-width="1.2"/>
<line x1="570.5" y1="99.2" x2="570.5" y2="102.8" stroke="#505050" stroke-width="1.1"/>
<line x1="570.5" y1="197.5" x2="570.5" y2="201.1" stroke="#505050" stroke-width="1.1"/>
<line x1="570.5" y1="296.5" x2="570.5" y2="300.4" stroke="#505050" stroke-width="1.2"/>
<line x1="596.35" y1="99.2" x2="596.35" y2="101.2" stroke="#505050" stroke-width="1.1"/>
<line x1="596.35" y1="197.5" x2="596.35" y2="199.5" stroke="#505050" stroke-width="1.1"/>
<line x1="596.35" y1="296.5" x2="596.35" y2="298.8" stroke="#505050" stroke-width="1.2"/>
<line x1="622.2" y1="99.2" x2="622.2" y2="102.8" stroke="#505050" stroke-width="1.1"/>
<line x1="622.2" y1="197.5" x2="622.2" y2="201.1" stroke="#505050" stroke-width="1.1"/>
<line x1="622.2" y1="296.5" x2="622.2" y2="300.4" stroke="#505050" stroke-width="1.2"/>
<line x1="648.05" y1="99.2" x2="648.05" y2="101.2" stroke="#505050" stroke-width="1.1"/>
<line x1="648.05" y1="197.5" x2="648.05" y2="199.5" stroke="#505050" stroke-width="1.1"/>
<line x1="648.05" y1="296.5" x2="648.05" y2="298.8" stroke="#505050" stroke-width="1.2"/>
<line x1="673.9" y1="99.2" x2="673.9" y2="102.8" stroke="#505050" stroke-width="1.1"/>
<line x1="673.9" y1="197.5" x2="673.9" y2="201.1" stroke="#505050" stroke-width="1.1"/>
<line x1="673.9" y1="296.5" x2="673.9" y2="300.4" stroke="#505050" stroke-width="1.2"/>
<text x="415.4" y="311.7" font-size="11.4" text-anchor="middle">0</text>
<text x="467.1" y="311.7" font-size="11.4" text-anchor="middle">200</text>
<text x="518.8" y="311.7" font-size="11.4" text-anchor="middle">400</text>
<text x="570.5" y="311.7" font-size="11.4" text-anchor="middle">600</text>
<text x="622.2" y="311.7" font-size="11.4" text-anchor="middle">800</text>
<text x="673.9" y="311.7" font-size="11.4" text-anchor="middle">1000</text>
<text x="539.7" y="331.5" font-size="13.15" text-anchor="middle">Time (s)</text>
<line x1="405.4" y1="-0.15" x2="405.4" y2="297" stroke="#303030" stroke-width="1"/>
<line x1="674" y1="-0.15" x2="674" y2="297" stroke="#303030" stroke-width="0.85"/>
<line x1="404.9" y1="0.35" x2="674.5" y2="0.35" stroke="#303030" stroke-width="1"/>
<line x1="403.4" y1="99.2" x2="674" y2="99.2" stroke="#303030" stroke-width="1"/>
<line x1="403.4" y1="197.5" x2="674" y2="197.5" stroke="#303030" stroke-width="1"/>
<line x1="401.4" y1="296.5" x2="674.5" y2="296.5" stroke="#303030" stroke-width="1"/>
<line x1="61.1" y1="427.65" x2="63.3" y2="427.65" stroke="#333" stroke-width="1"/>
<line x1="61.1" y1="406.75" x2="63.3" y2="406.75" stroke="#333" stroke-width="1"/>
<line x1="61.1" y1="385.85" x2="63.3" y2="385.85" stroke="#333" stroke-width="1"/>
<line x1="61.1" y1="364.95" x2="63.3" y2="364.95" stroke="#333" stroke-width="1"/>
<line x1="61.1" y1="344.05" x2="63.3" y2="344.05" stroke="#333" stroke-width="1"/>
<line x1="59.3" y1="417.2" x2="63.3" y2="417.2" stroke="#333" stroke-width="1"/>
<text x="57" y="421.3" font-size="11.4" text-anchor="end">80</text>
<line x1="59.3" y1="396.3" x2="63.3" y2="396.3" stroke="#333" stroke-width="1"/>
<text x="57" y="400.4" font-size="11.4" text-anchor="end">100</text>
<line x1="59.3" y1="375.4" x2="63.3" y2="375.4" stroke="#333" stroke-width="1"/>
<text x="57" y="379.5" font-size="11.4" text-anchor="end">120</text>
<line x1="59.3" y1="354.5" x2="63.3" y2="354.5" stroke="#333" stroke-width="1"/>
<text x="57" y="358.6" font-size="11.4" text-anchor="end">140</text>
<text x="30.6" y="388.35" font-size="13.15" text-anchor="middle" transform="rotate(-90 30.6 388.35)">Temp. (<tspan font-size="9.6" dy="-4.3">o</tspan><tspan dy="4.3">C)</tspan></text>
<line x1="61.1" y1="519.43" x2="63.3" y2="519.43" stroke="#333" stroke-width="1"/>
<line x1="61.1" y1="503" x2="63.3" y2="503" stroke="#333" stroke-width="1"/>
<line x1="61.1" y1="486.57" x2="63.3" y2="486.57" stroke="#333" stroke-width="1"/>
<line x1="61.1" y1="470.14" x2="63.3" y2="470.14" stroke="#333" stroke-width="1"/>
<line x1="61.1" y1="453.71" x2="63.3" y2="453.71" stroke="#333" stroke-width="1"/>
<line x1="61.1" y1="437.29" x2="63.3" y2="437.29" stroke="#333" stroke-width="1"/>
<line x1="59.3" y1="527.65" x2="63.3" y2="527.65" stroke="#333" stroke-width="1"/>
<text x="57" y="531.75" font-size="11.4" text-anchor="end">0</text>
<line x1="59.3" y1="511.22" x2="63.3" y2="511.22" stroke="#333" stroke-width="1"/>
<text x="57" y="515.32" font-size="11.4" text-anchor="end">20</text>
<line x1="59.3" y1="494.79" x2="63.3" y2="494.79" stroke="#333" stroke-width="1"/>
<text x="57" y="498.89" font-size="11.4" text-anchor="end">40</text>
<line x1="59.3" y1="478.36" x2="63.3" y2="478.36" stroke="#333" stroke-width="1"/>
<text x="57" y="482.46" font-size="11.4" text-anchor="end">60</text>
<line x1="59.3" y1="461.93" x2="63.3" y2="461.93" stroke="#333" stroke-width="1"/>
<text x="57" y="466.03" font-size="11.4" text-anchor="end">80</text>
<line x1="59.3" y1="445.5" x2="63.3" y2="445.5" stroke="#333" stroke-width="1"/>
<text x="57" y="449.6" font-size="11.4" text-anchor="end">100</text>
<text x="30.6" y="486.5" font-size="13.15" text-anchor="middle" transform="rotate(-90 30.6 486.5)">Current (A)</text>
<line x1="61.1" y1="625.53" x2="63.3" y2="625.53" stroke="#333" stroke-width="1"/>
<line x1="61.1" y1="607.7" x2="63.3" y2="607.7" stroke="#333" stroke-width="1"/>
<line x1="61.1" y1="589.88" x2="63.3" y2="589.88" stroke="#333" stroke-width="1"/>
<line x1="61.1" y1="572.04" x2="63.3" y2="572.04" stroke="#333" stroke-width="1"/>
<line x1="61.1" y1="554.21" x2="63.3" y2="554.21" stroke="#333" stroke-width="1"/>
<line x1="61.1" y1="536.38" x2="63.3" y2="536.38" stroke="#333" stroke-width="1"/>
<line x1="59.3" y1="634.45" x2="63.3" y2="634.45" stroke="#333" stroke-width="1"/>
<text x="57" y="638.55" font-size="11.4" text-anchor="end">0</text>
<line x1="59.3" y1="616.62" x2="63.3" y2="616.62" stroke="#333" stroke-width="1"/>
<text x="57" y="620.72" font-size="11.4" text-anchor="end">2</text>
<line x1="59.3" y1="598.79" x2="63.3" y2="598.79" stroke="#333" stroke-width="1"/>
<text x="57" y="602.89" font-size="11.4" text-anchor="end">4</text>
<line x1="59.3" y1="580.96" x2="63.3" y2="580.96" stroke="#333" stroke-width="1"/>
<text x="57" y="585.06" font-size="11.4" text-anchor="end">6</text>
<line x1="59.3" y1="563.13" x2="63.3" y2="563.13" stroke="#333" stroke-width="1"/>
<text x="57" y="567.23" font-size="11.4" text-anchor="end">8</text>
<line x1="59.3" y1="545.3" x2="63.3" y2="545.3" stroke="#333" stroke-width="1"/>
<text x="57" y="549.4" font-size="11.4" text-anchor="end">10</text>
<text x="37" y="585.25" font-size="13.15" text-anchor="middle" transform="rotate(-90 37 585.25)">Voltage (V)</text>
<line x1="71.1" y1="437.5" x2="71.1" y2="441.1" stroke="#505050" stroke-width="1.1"/>
<line x1="71.1" y1="536.4" x2="71.1" y2="540" stroke="#505050" stroke-width="1.1"/>
<line x1="71.1" y1="635" x2="71.1" y2="638.9" stroke="#505050" stroke-width="1.2"/>
<line x1="87.38" y1="437.5" x2="87.38" y2="439.5" stroke="#505050" stroke-width="1.1"/>
<line x1="87.38" y1="536.4" x2="87.38" y2="538.4" stroke="#505050" stroke-width="1.1"/>
<line x1="87.38" y1="635" x2="87.38" y2="637.3" stroke="#505050" stroke-width="1.2"/>
<line x1="103.65" y1="437.5" x2="103.65" y2="441.1" stroke="#505050" stroke-width="1.1"/>
<line x1="103.65" y1="536.4" x2="103.65" y2="540" stroke="#505050" stroke-width="1.1"/>
<line x1="103.65" y1="635" x2="103.65" y2="638.9" stroke="#505050" stroke-width="1.2"/>
<line x1="119.92" y1="437.5" x2="119.92" y2="439.5" stroke="#505050" stroke-width="1.1"/>
<line x1="119.92" y1="536.4" x2="119.92" y2="538.4" stroke="#505050" stroke-width="1.1"/>
<line x1="119.92" y1="635" x2="119.92" y2="637.3" stroke="#505050" stroke-width="1.2"/>
<line x1="136.2" y1="437.5" x2="136.2" y2="441.1" stroke="#505050" stroke-width="1.1"/>
<line x1="136.2" y1="536.4" x2="136.2" y2="540" stroke="#505050" stroke-width="1.1"/>
<line x1="136.2" y1="635" x2="136.2" y2="638.9" stroke="#505050" stroke-width="1.2"/>
<line x1="152.47" y1="437.5" x2="152.47" y2="439.5" stroke="#505050" stroke-width="1.1"/>
<line x1="152.47" y1="536.4" x2="152.47" y2="538.4" stroke="#505050" stroke-width="1.1"/>
<line x1="152.47" y1="635" x2="152.47" y2="637.3" stroke="#505050" stroke-width="1.2"/>
<line x1="168.75" y1="437.5" x2="168.75" y2="441.1" stroke="#505050" stroke-width="1.1"/>
<line x1="168.75" y1="536.4" x2="168.75" y2="540" stroke="#505050" stroke-width="1.1"/>
<line x1="168.75" y1="635" x2="168.75" y2="638.9" stroke="#505050" stroke-width="1.2"/>
<line x1="185.03" y1="437.5" x2="185.03" y2="439.5" stroke="#505050" stroke-width="1.1"/>
<line x1="185.03" y1="536.4" x2="185.03" y2="538.4" stroke="#505050" stroke-width="1.1"/>
<line x1="185.03" y1="635" x2="185.03" y2="637.3" stroke="#505050" stroke-width="1.2"/>
<line x1="201.3" y1="437.5" x2="201.3" y2="441.1" stroke="#505050" stroke-width="1.1"/>
<line x1="201.3" y1="536.4" x2="201.3" y2="540" stroke="#505050" stroke-width="1.1"/>
<line x1="201.3" y1="635" x2="201.3" y2="638.9" stroke="#505050" stroke-width="1.2"/>
<line x1="217.58" y1="437.5" x2="217.58" y2="439.5" stroke="#505050" stroke-width="1.1"/>
<line x1="217.58" y1="536.4" x2="217.58" y2="538.4" stroke="#505050" stroke-width="1.1"/>
<line x1="217.58" y1="635" x2="217.58" y2="637.3" stroke="#505050" stroke-width="1.2"/>
<line x1="233.85" y1="437.5" x2="233.85" y2="441.1" stroke="#505050" stroke-width="1.1"/>
<line x1="233.85" y1="536.4" x2="233.85" y2="540" stroke="#505050" stroke-width="1.1"/>
<line x1="233.85" y1="635" x2="233.85" y2="638.9" stroke="#505050" stroke-width="1.2"/>
<line x1="250.12" y1="437.5" x2="250.12" y2="439.5" stroke="#505050" stroke-width="1.1"/>
<line x1="250.12" y1="536.4" x2="250.12" y2="538.4" stroke="#505050" stroke-width="1.1"/>
<line x1="250.12" y1="635" x2="250.12" y2="637.3" stroke="#505050" stroke-width="1.2"/>
<line x1="266.4" y1="437.5" x2="266.4" y2="441.1" stroke="#505050" stroke-width="1.1"/>
<line x1="266.4" y1="536.4" x2="266.4" y2="540" stroke="#505050" stroke-width="1.1"/>
<line x1="266.4" y1="635" x2="266.4" y2="638.9" stroke="#505050" stroke-width="1.2"/>
<line x1="282.68" y1="437.5" x2="282.68" y2="439.5" stroke="#505050" stroke-width="1.1"/>
<line x1="282.68" y1="536.4" x2="282.68" y2="538.4" stroke="#505050" stroke-width="1.1"/>
<line x1="282.68" y1="635" x2="282.68" y2="637.3" stroke="#505050" stroke-width="1.2"/>
<line x1="298.95" y1="437.5" x2="298.95" y2="441.1" stroke="#505050" stroke-width="1.1"/>
<line x1="298.95" y1="536.4" x2="298.95" y2="540" stroke="#505050" stroke-width="1.1"/>
<line x1="298.95" y1="635" x2="298.95" y2="638.9" stroke="#505050" stroke-width="1.2"/>
<line x1="315.23" y1="437.5" x2="315.23" y2="439.5" stroke="#505050" stroke-width="1.1"/>
<line x1="315.23" y1="536.4" x2="315.23" y2="538.4" stroke="#505050" stroke-width="1.1"/>
<line x1="315.23" y1="635" x2="315.23" y2="637.3" stroke="#505050" stroke-width="1.2"/>
<line x1="331.5" y1="437.5" x2="331.5" y2="441.1" stroke="#505050" stroke-width="1.1"/>
<line x1="331.5" y1="536.4" x2="331.5" y2="540" stroke="#505050" stroke-width="1.1"/>
<line x1="331.5" y1="635" x2="331.5" y2="638.9" stroke="#505050" stroke-width="1.2"/>
<text x="71.1" y="650.4" font-size="11.4" text-anchor="middle">0</text>
<text x="103.65" y="650.4" font-size="11.4" text-anchor="middle">2000</text>
<text x="136.2" y="650.4" font-size="11.4" text-anchor="middle">4000</text>
<text x="168.75" y="650.4" font-size="11.4" text-anchor="middle">6000</text>
<text x="201.3" y="650.4" font-size="11.4" text-anchor="middle">8000</text>
<text x="233.85" y="650.4" font-size="11.4" text-anchor="middle">10000</text>
<text x="266.4" y="650.4" font-size="11.4" text-anchor="middle">12000</text>
<text x="298.95" y="650.4" font-size="11.4" text-anchor="middle">14000</text>
<text x="331.5" y="650.4" font-size="11.4" text-anchor="middle">16000</text>
<text x="197.7" y="669.8" font-size="13.15" text-anchor="middle">Time (s)</text>
<line x1="63.3" y1="338.5" x2="63.3" y2="635.5" stroke="#303030" stroke-width="1"/>
<line x1="332" y1="338.5" x2="332" y2="635.5" stroke="#303030" stroke-width="1"/>
<line x1="62.8" y1="339" x2="332.5" y2="339" stroke="#303030" stroke-width="1"/>
<line x1="61.3" y1="437.5" x2="332" y2="437.5" stroke="#303030" stroke-width="1"/>
<line x1="61.3" y1="536.4" x2="332" y2="536.4" stroke="#303030" stroke-width="1"/>
<line x1="59.3" y1="635" x2="332.5" y2="635" stroke="#303030" stroke-width="1"/>
<line x1="404.3" y1="426.4" x2="406.5" y2="426.4" stroke="#333" stroke-width="1"/>
<line x1="404.3" y1="404.6" x2="406.5" y2="404.6" stroke="#333" stroke-width="1"/>
<line x1="404.3" y1="382.8" x2="406.5" y2="382.8" stroke="#333" stroke-width="1"/>
<line x1="404.3" y1="361" x2="406.5" y2="361" stroke="#333" stroke-width="1"/>
<line x1="404.3" y1="339.2" x2="406.5" y2="339.2" stroke="#333" stroke-width="1"/>
<line x1="402.5" y1="437.3" x2="406.5" y2="437.3" stroke="#333" stroke-width="1"/>
<text x="400.3" y="441.4" font-size="11.4" text-anchor="end">60</text>
<line x1="402.5" y1="415.5" x2="406.5" y2="415.5" stroke="#333" stroke-width="1"/>
<text x="400.3" y="419.6" font-size="11.4" text-anchor="end">80</text>
<line x1="402.5" y1="393.7" x2="406.5" y2="393.7" stroke="#333" stroke-width="1"/>
<text x="400.3" y="397.8" font-size="11.4" text-anchor="end">100</text>
<line x1="402.5" y1="371.9" x2="406.5" y2="371.9" stroke="#333" stroke-width="1"/>
<text x="400.3" y="376" font-size="11.4" text-anchor="end">120</text>
<line x1="402.5" y1="350.1" x2="406.5" y2="350.1" stroke="#333" stroke-width="1"/>
<text x="400.3" y="354.2" font-size="11.4" text-anchor="end">140</text>
<text x="373.6" y="388.6" font-size="13.15" text-anchor="middle" transform="rotate(-90 373.6 388.6)">Temp. (<tspan font-size="9.6" dy="-4.3">o</tspan><tspan dy="4.3">C)</tspan></text>
<line x1="404.3" y1="528" x2="406.5" y2="528" stroke="#333" stroke-width="1"/>
<line x1="404.3" y1="510" x2="406.5" y2="510" stroke="#333" stroke-width="1"/>
<line x1="404.3" y1="492" x2="406.5" y2="492" stroke="#333" stroke-width="1"/>
<line x1="404.3" y1="474" x2="406.5" y2="474" stroke="#333" stroke-width="1"/>
<line x1="404.3" y1="456" x2="406.5" y2="456" stroke="#333" stroke-width="1"/>
<line x1="404.3" y1="438" x2="406.5" y2="438" stroke="#333" stroke-width="1"/>
<line x1="402.5" y1="519" x2="406.5" y2="519" stroke="#333" stroke-width="1"/>
<text x="400.3" y="523.1" font-size="11.4" text-anchor="end">20</text>
<line x1="402.5" y1="501" x2="406.5" y2="501" stroke="#333" stroke-width="1"/>
<text x="400.3" y="505.1" font-size="11.4" text-anchor="end">40</text>
<line x1="402.5" y1="483" x2="406.5" y2="483" stroke="#333" stroke-width="1"/>
<text x="400.3" y="487.1" font-size="11.4" text-anchor="end">60</text>
<line x1="402.5" y1="465" x2="406.5" y2="465" stroke="#333" stroke-width="1"/>
<text x="400.3" y="469.1" font-size="11.4" text-anchor="end">80</text>
<line x1="402.5" y1="447" x2="406.5" y2="447" stroke="#333" stroke-width="1"/>
<text x="400.3" y="451.1" font-size="11.4" text-anchor="end">100</text>
<text x="373.6" y="486.6" font-size="13.15" text-anchor="middle" transform="rotate(-90 373.6 486.6)">Current (A)</text>
<line x1="404.3" y1="619.59" x2="406.5" y2="619.59" stroke="#333" stroke-width="1"/>
<line x1="404.3" y1="598.85" x2="406.5" y2="598.85" stroke="#333" stroke-width="1"/>
<line x1="404.3" y1="578.11" x2="406.5" y2="578.11" stroke="#333" stroke-width="1"/>
<line x1="404.3" y1="557.37" x2="406.5" y2="557.37" stroke="#333" stroke-width="1"/>
<line x1="404.3" y1="536.63" x2="406.5" y2="536.63" stroke="#333" stroke-width="1"/>
<line x1="402.5" y1="629.96" x2="406.5" y2="629.96" stroke="#333" stroke-width="1"/>
<text x="400.3" y="634.06" font-size="11.4" text-anchor="end">2</text>
<line x1="402.5" y1="609.22" x2="406.5" y2="609.22" stroke="#333" stroke-width="1"/>
<text x="400.3" y="613.32" font-size="11.4" text-anchor="end">4</text>
<line x1="402.5" y1="588.48" x2="406.5" y2="588.48" stroke="#333" stroke-width="1"/>
<text x="400.3" y="592.58" font-size="11.4" text-anchor="end">6</text>
<line x1="402.5" y1="567.74" x2="406.5" y2="567.74" stroke="#333" stroke-width="1"/>
<text x="400.3" y="571.84" font-size="11.4" text-anchor="end">8</text>
<line x1="402.5" y1="547" x2="406.5" y2="547" stroke="#333" stroke-width="1"/>
<text x="400.3" y="551.1" font-size="11.4" text-anchor="end">10</text>
<text x="380.2" y="585.5" font-size="13.15" text-anchor="middle" transform="rotate(-90 380.2 585.5)">Voltage (V)</text>
<line x1="413" y1="437.5" x2="413" y2="441.1" stroke="#505050" stroke-width="1.1"/>
<line x1="413" y1="536.5" x2="413" y2="540.1" stroke="#505050" stroke-width="1.1"/>
<line x1="413" y1="635.5" x2="413" y2="639.4" stroke="#505050" stroke-width="1.2"/>
<line x1="433.71" y1="437.5" x2="433.71" y2="439.5" stroke="#505050" stroke-width="1.1"/>
<line x1="433.71" y1="536.5" x2="433.71" y2="538.5" stroke="#505050" stroke-width="1.1"/>
<line x1="433.71" y1="635.5" x2="433.71" y2="637.8" stroke="#505050" stroke-width="1.2"/>
<line x1="454.43" y1="437.5" x2="454.43" y2="441.1" stroke="#505050" stroke-width="1.1"/>
<line x1="454.43" y1="536.5" x2="454.43" y2="540.1" stroke="#505050" stroke-width="1.1"/>
<line x1="454.43" y1="635.5" x2="454.43" y2="639.4" stroke="#505050" stroke-width="1.2"/>
<line x1="475.14" y1="437.5" x2="475.14" y2="439.5" stroke="#505050" stroke-width="1.1"/>
<line x1="475.14" y1="536.5" x2="475.14" y2="538.5" stroke="#505050" stroke-width="1.1"/>
<line x1="475.14" y1="635.5" x2="475.14" y2="637.8" stroke="#505050" stroke-width="1.2"/>
<line x1="495.86" y1="437.5" x2="495.86" y2="441.1" stroke="#505050" stroke-width="1.1"/>
<line x1="495.86" y1="536.5" x2="495.86" y2="540.1" stroke="#505050" stroke-width="1.1"/>
<line x1="495.86" y1="635.5" x2="495.86" y2="639.4" stroke="#505050" stroke-width="1.2"/>
<line x1="516.58" y1="437.5" x2="516.58" y2="439.5" stroke="#505050" stroke-width="1.1"/>
<line x1="516.58" y1="536.5" x2="516.58" y2="538.5" stroke="#505050" stroke-width="1.1"/>
<line x1="516.58" y1="635.5" x2="516.58" y2="637.8" stroke="#505050" stroke-width="1.2"/>
<line x1="537.29" y1="437.5" x2="537.29" y2="441.1" stroke="#505050" stroke-width="1.1"/>
<line x1="537.29" y1="536.5" x2="537.29" y2="540.1" stroke="#505050" stroke-width="1.1"/>
<line x1="537.29" y1="635.5" x2="537.29" y2="639.4" stroke="#505050" stroke-width="1.2"/>
<line x1="558" y1="437.5" x2="558" y2="439.5" stroke="#505050" stroke-width="1.1"/>
<line x1="558" y1="536.5" x2="558" y2="538.5" stroke="#505050" stroke-width="1.1"/>
<line x1="558" y1="635.5" x2="558" y2="637.8" stroke="#505050" stroke-width="1.2"/>
<line x1="578.72" y1="437.5" x2="578.72" y2="441.1" stroke="#505050" stroke-width="1.1"/>
<line x1="578.72" y1="536.5" x2="578.72" y2="540.1" stroke="#505050" stroke-width="1.1"/>
<line x1="578.72" y1="635.5" x2="578.72" y2="639.4" stroke="#505050" stroke-width="1.2"/>
<line x1="599.43" y1="437.5" x2="599.43" y2="439.5" stroke="#505050" stroke-width="1.1"/>
<line x1="599.43" y1="536.5" x2="599.43" y2="538.5" stroke="#505050" stroke-width="1.1"/>
<line x1="599.43" y1="635.5" x2="599.43" y2="637.8" stroke="#505050" stroke-width="1.2"/>
<line x1="620.15" y1="437.5" x2="620.15" y2="441.1" stroke="#505050" stroke-width="1.1"/>
<line x1="620.15" y1="536.5" x2="620.15" y2="540.1" stroke="#505050" stroke-width="1.1"/>
<line x1="620.15" y1="635.5" x2="620.15" y2="639.4" stroke="#505050" stroke-width="1.2"/>
<line x1="640.87" y1="437.5" x2="640.87" y2="439.5" stroke="#505050" stroke-width="1.1"/>
<line x1="640.87" y1="536.5" x2="640.87" y2="538.5" stroke="#505050" stroke-width="1.1"/>
<line x1="640.87" y1="635.5" x2="640.87" y2="637.8" stroke="#505050" stroke-width="1.2"/>
<line x1="661.58" y1="437.5" x2="661.58" y2="441.1" stroke="#505050" stroke-width="1.1"/>
<line x1="661.58" y1="536.5" x2="661.58" y2="540.1" stroke="#505050" stroke-width="1.1"/>
<line x1="661.58" y1="635.5" x2="661.58" y2="639.4" stroke="#505050" stroke-width="1.2"/>
<text x="413" y="650.4" font-size="11.4" text-anchor="middle">0</text>
<text x="454.43" y="650.4" font-size="11.4" text-anchor="middle">3000</text>
<text x="495.86" y="650.4" font-size="11.4" text-anchor="middle">6000</text>
<text x="537.29" y="650.4" font-size="11.4" text-anchor="middle">9000</text>
<text x="578.72" y="650.4" font-size="11.4" text-anchor="middle">12000</text>
<text x="620.15" y="650.4" font-size="11.4" text-anchor="middle">15000</text>
<text x="661.58" y="650.4" font-size="11.4" text-anchor="middle">18000</text>
<text x="540.6" y="669.8" font-size="13.15" text-anchor="middle">Time (s)</text>
<line x1="406.5" y1="338.7" x2="406.5" y2="636" stroke="#303030" stroke-width="1"/>
<line x1="675" y1="338.7" x2="675" y2="636" stroke="#303030" stroke-width="1"/>
<line x1="406" y1="339.2" x2="675.5" y2="339.2" stroke="#303030" stroke-width="1"/>
<line x1="404.5" y1="437.5" x2="675" y2="437.5" stroke="#303030" stroke-width="1"/>
<line x1="404.5" y1="536.5" x2="675" y2="536.5" stroke="#303030" stroke-width="1"/>
<line x1="406" y1="635.5" x2="675.5" y2="635.5" stroke="#303030" stroke-width="1"/>
<text x="-1.4" y="24.6" font-size="22.8">a)</text>
<text x="341.6" y="24.6" font-size="22.8">b)</text>
<text x="3" y="363.4" font-size="22.8">c)</text>
<text x="342.2" y="363.1" font-size="22.8">d)</text>
</svg>
</body></html>
